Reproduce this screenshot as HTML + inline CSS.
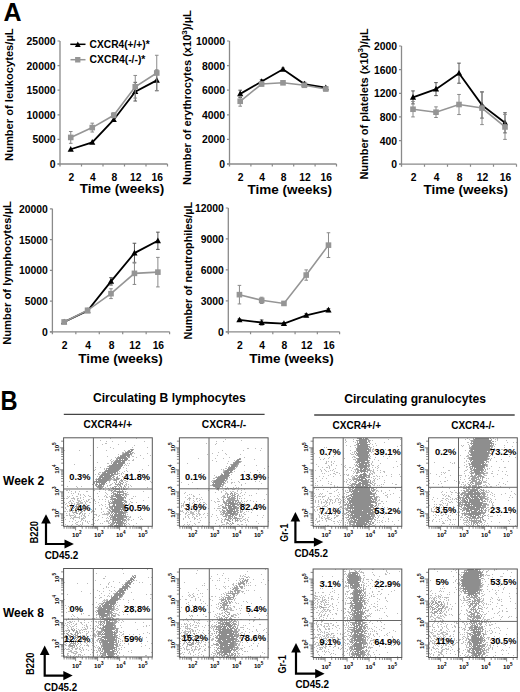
<!DOCTYPE html>
<html><head><meta charset="utf-8"><style>
html,body{margin:0;padding:0;background:#fff;width:520px;height:692px;overflow:hidden}
svg{display:block}
text{font-family:"Liberation Sans",sans-serif;font-weight:bold;fill:#000}
</style></head><body>
<svg width="520" height="692" viewBox="0 0 520 692">
<defs><filter id="bl" x="-5%" y="-5%" width="110%" height="110%"><feGaussianBlur stdDeviation="0.45"/></filter></defs>
<path d="M60 41V166.5M57.5 164H167.5" stroke="#8a8a8a" stroke-width="1.3" fill="none"/>
<path d="M57.5 164H60M57.5 139.4H60M57.5 114.8H60M57.5 90.2H60M57.5 65.6H60M57.5 41H60M81.5 164V166.5M103 164V166.5M124.5 164V166.5M146 164V166.5M167.5 164V166.5" stroke="#8a8a8a" stroke-width="1.2" fill="none"/>
<text x="55.5" y="168" font-size="10.4" text-anchor="end" >0</text>
<text x="55.5" y="143.4" font-size="10.4" text-anchor="end" >5000</text>
<text x="55.5" y="118.8" font-size="10.4" text-anchor="end" >10000</text>
<text x="55.5" y="94.2" font-size="10.4" text-anchor="end" >15000</text>
<text x="55.5" y="69.6" font-size="10.4" text-anchor="end" >20000</text>
<text x="55.5" y="45" font-size="10.4" text-anchor="end" >25000</text>
<text x="71.25" y="180.8" font-size="10.3" text-anchor="middle" >2</text>
<text x="92.75" y="180.8" font-size="10.3" text-anchor="middle" >4</text>
<text x="114.25" y="180.8" font-size="10.3" text-anchor="middle" >8</text>
<text x="135.75" y="180.8" font-size="10.3" text-anchor="middle" >12</text>
<text x="157.25" y="180.8" font-size="10.3" text-anchor="middle" >16</text>
<text x="121.9" y="192.8" font-size="13.5" text-anchor="middle" >Time (weeks)</text>
<text transform="translate(13.3,160.9) rotate(-90)" font-size="11" textLength="132.5" lengthAdjust="spacingAndGlyphs">Number of leukocytes/µL</text>
<path d="M135.25 101.02V82.33M133.45 101.02h3.6M133.45 82.33h3.6M156.75 90.69V70.03M154.95 90.69h3.6M154.95 70.03h3.6" stroke="#555" stroke-width="1" fill="none"/>
<polyline points="70.75,149.24 92.25,142.35 113.75,119.72 135.25,91.68 156.75,80.36" stroke="#000" stroke-width="1.8" fill="none"/>
<path d="M70.75 145.94l3.1 5.7h-6.2z" fill="#000"/>
<path d="M92.25 139.05l3.1 5.7h-6.2z" fill="#000"/>
<path d="M113.75 116.42l3.1 5.7h-6.2z" fill="#000"/>
<path d="M135.25 88.38l3.1 5.7h-6.2z" fill="#000"/>
<path d="M156.75 77.06l3.1 5.7h-6.2z" fill="#000"/>
<path d="M70.75 143.34V131.53M68.95 143.34h3.6M68.95 131.53h3.6M92.25 132.02V123.16M90.45 132.02h3.6M90.45 123.16h3.6M113.75 117.75V112.83M111.95 117.75h3.6M111.95 112.83h3.6M135.25 98.07V75.44M133.45 98.07h3.6M133.45 75.44h3.6M156.75 90.69V55.27M154.95 90.69h3.6M154.95 55.27h3.6" stroke="#8a8a8a" stroke-width="1" fill="none"/>
<polyline points="70.75,137.43 92.25,127.59 113.75,115.29 135.25,86.76 156.75,72.98" stroke="#959595" stroke-width="1.6" fill="none"/>
<rect x="67.95" y="134.63" width="5.6" height="5.6" fill="#959595"/>
<rect x="89.45" y="124.79" width="5.6" height="5.6" fill="#959595"/>
<rect x="110.95" y="112.49" width="5.6" height="5.6" fill="#959595"/>
<rect x="132.45" y="83.96" width="5.6" height="5.6" fill="#959595"/>
<rect x="153.95" y="70.18" width="5.6" height="5.6" fill="#959595"/>
<path d="M229.5 41V166.5M227 164H336.5" stroke="#8a8a8a" stroke-width="1.3" fill="none"/>
<path d="M227 164H229.5M227 139.4H229.5M227 114.8H229.5M227 90.2H229.5M227 65.6H229.5M227 41H229.5M250.9 164V166.5M272.3 164V166.5M293.7 164V166.5M315.1 164V166.5M336.5 164V166.5" stroke="#8a8a8a" stroke-width="1.2" fill="none"/>
<text x="225" y="168" font-size="10.4" text-anchor="end" >0</text>
<text x="225" y="143.4" font-size="10.4" text-anchor="end" >2000</text>
<text x="225" y="118.8" font-size="10.4" text-anchor="end" >4000</text>
<text x="225" y="94.2" font-size="10.4" text-anchor="end" >6000</text>
<text x="225" y="69.6" font-size="10.4" text-anchor="end" >8000</text>
<text x="225" y="45" font-size="10.4" text-anchor="end" >10000</text>
<text x="240.7" y="180.8" font-size="10.3" text-anchor="middle" >2</text>
<text x="262.1" y="180.8" font-size="10.3" text-anchor="middle" >4</text>
<text x="283.5" y="180.8" font-size="10.3" text-anchor="middle" >8</text>
<text x="304.9" y="180.8" font-size="10.3" text-anchor="middle" >12</text>
<text x="326.3" y="180.8" font-size="10.3" text-anchor="middle" >16</text>
<text x="289.7" y="193.8" font-size="13.5" text-anchor="middle" >Time (weeks)</text>
<text transform="translate(191.3,185) rotate(-90)" font-size="11" textLength="174.8" lengthAdjust="spacingAndGlyphs">Number of erythrocytes (x10<tspan dy="-4.5" font-size="8">3</tspan><tspan dy="4.5">)/µL</tspan></text>
<path d="M240.2 97.58V90.2M238.4 97.58h3.6M238.4 90.2h3.6M261.6 83.44V79.74M259.8 83.44h3.6M259.8 79.74h3.6M283 70.52V68.06M281.2 70.52h3.6M281.2 68.06h3.6M304.4 85.89V82.2M302.6 85.89h3.6M302.6 82.2h3.6M325.8 88.97V86.51M324 88.97h3.6M324 86.51h3.6" stroke="#555" stroke-width="1" fill="none"/>
<polyline points="240.2,93.89 261.6,81.59 283,69.29 304.4,84.05 325.8,87.74" stroke="#000" stroke-width="1.8" fill="none"/>
<path d="M240.2 90.59l3.1 5.7h-6.2z" fill="#000"/>
<path d="M261.6 78.29l3.1 5.7h-6.2z" fill="#000"/>
<path d="M283 65.99l3.1 5.7h-6.2z" fill="#000"/>
<path d="M304.4 80.75l3.1 5.7h-6.2z" fill="#000"/>
<path d="M325.8 84.44l3.1 5.7h-6.2z" fill="#000"/>
<path d="M240.2 106.19V96.35M238.4 106.19h3.6M238.4 96.35h3.6M261.6 85.89V82.2M259.8 85.89h3.6M259.8 82.2h3.6M283 84.05V81.59M281.2 84.05h3.6M281.2 81.59h3.6M304.4 87.12V83.44M302.6 87.12h3.6M302.6 83.44h3.6M325.8 90.81V87.12M324 90.81h3.6M324 87.12h3.6" stroke="#8a8a8a" stroke-width="1" fill="none"/>
<polyline points="240.2,101.27 261.6,84.05 283,82.82 304.4,85.28 325.8,88.97" stroke="#959595" stroke-width="1.6" fill="none"/>
<rect x="237.4" y="98.47" width="5.6" height="5.6" fill="#959595"/>
<rect x="258.8" y="81.25" width="5.6" height="5.6" fill="#959595"/>
<rect x="280.2" y="80.02" width="5.6" height="5.6" fill="#959595"/>
<rect x="301.6" y="82.48" width="5.6" height="5.6" fill="#959595"/>
<rect x="323" y="86.17" width="5.6" height="5.6" fill="#959595"/>
<path d="M401.5 46V166.7M399 164.2H516.5" stroke="#8a8a8a" stroke-width="1.3" fill="none"/>
<path d="M399 164.2H401.5M399 140.56H401.5M399 116.92H401.5M399 93.28H401.5M399 69.64H401.5M399 46H401.5M424.5 164.2V166.7M447.5 164.2V166.7M470.5 164.2V166.7M493.5 164.2V166.7M516.5 164.2V166.7" stroke="#8a8a8a" stroke-width="1.2" fill="none"/>
<text x="397" y="168.2" font-size="10.4" text-anchor="end" >0</text>
<text x="397" y="144.56" font-size="10.4" text-anchor="end" >400</text>
<text x="397" y="120.92" font-size="10.4" text-anchor="end" >800</text>
<text x="397" y="97.28" font-size="10.4" text-anchor="end" >1200</text>
<text x="397" y="73.64" font-size="10.4" text-anchor="end" >1600</text>
<text x="397" y="50" font-size="10.4" text-anchor="end" >2000</text>
<text x="413.5" y="181" font-size="10.3" text-anchor="middle" >2</text>
<text x="436.5" y="181" font-size="10.3" text-anchor="middle" >4</text>
<text x="459.5" y="181" font-size="10.3" text-anchor="middle" >8</text>
<text x="482.5" y="181" font-size="10.3" text-anchor="middle" >12</text>
<text x="505.5" y="181" font-size="10.3" text-anchor="middle" >16</text>
<text x="465.8" y="193.5" font-size="13.5" text-anchor="middle" >Time (weeks)</text>
<text transform="translate(367.8,179.6) rotate(-90)" font-size="11" textLength="151.3" lengthAdjust="spacingAndGlyphs">Number of platelets (x10<tspan dy="-4.5" font-size="8">3</tspan><tspan dy="4.5">)/µL</tspan></text>
<path d="M413 103.92V90.92M411.2 103.92h3.6M411.2 90.92h3.6M436 95.64V82.64M434.2 95.64h3.6M434.2 82.64h3.6M459 83.23V63.14M457.2 83.23h3.6M457.2 63.14h3.6M482 118.1V92.1M480.2 118.1h3.6M480.2 92.1h3.6M505 132.88V112.78M503.2 132.88h3.6M503.2 112.78h3.6" stroke="#555" stroke-width="1" fill="none"/>
<polyline points="413,97.42 436,89.14 459,73.19 482,105.1 505,122.83" stroke="#000" stroke-width="1.8" fill="none"/>
<path d="M413 94.12l3.1 5.7h-6.2z" fill="#000"/>
<path d="M436 85.84l3.1 5.7h-6.2z" fill="#000"/>
<path d="M459 69.89l3.1 5.7h-6.2z" fill="#000"/>
<path d="M482 101.8l3.1 5.7h-6.2z" fill="#000"/>
<path d="M505 119.53l3.1 5.7h-6.2z" fill="#000"/>
<path d="M413 116.92V101.55M411.2 116.92h3.6M411.2 101.55h3.6M436 117.51V106.87M434.2 117.51h3.6M434.2 106.87h3.6M459 114.56V94.46M457.2 114.56h3.6M457.2 94.46h3.6M482 124.6V91.51M480.2 124.6h3.6M480.2 91.51h3.6M505 139.38V114.56M503.2 139.38h3.6M503.2 114.56h3.6" stroke="#8a8a8a" stroke-width="1" fill="none"/>
<polyline points="413,109.24 436,112.19 459,104.51 482,108.06 505,126.97" stroke="#959595" stroke-width="1.6" fill="none"/>
<rect x="410.2" y="106.44" width="5.6" height="5.6" fill="#959595"/>
<rect x="433.2" y="109.39" width="5.6" height="5.6" fill="#959595"/>
<rect x="456.2" y="101.71" width="5.6" height="5.6" fill="#959595"/>
<rect x="479.2" y="105.26" width="5.6" height="5.6" fill="#959595"/>
<rect x="502.2" y="124.17" width="5.6" height="5.6" fill="#959595"/>
<path d="M52.4 208.8V334.3M49.9 331.8H169.6" stroke="#8a8a8a" stroke-width="1.3" fill="none"/>
<path d="M49.9 331.8H52.4M49.9 301.05H52.4M49.9 270.3H52.4M49.9 239.55H52.4M49.9 208.8H52.4M75.84 331.8V334.3M99.28 331.8V334.3M122.72 331.8V334.3M146.16 331.8V334.3M169.6 331.8V334.3" stroke="#8a8a8a" stroke-width="1.2" fill="none"/>
<text x="47.9" y="335.8" font-size="10.4" text-anchor="end" >0</text>
<text x="47.9" y="305.05" font-size="10.4" text-anchor="end" >5000</text>
<text x="47.9" y="274.3" font-size="10.4" text-anchor="end" >10000</text>
<text x="47.9" y="243.55" font-size="10.4" text-anchor="end" >15000</text>
<text x="47.9" y="212.8" font-size="10.4" text-anchor="end" >20000</text>
<text x="64.62" y="348.6" font-size="10.3" text-anchor="middle" >2</text>
<text x="88.06" y="348.6" font-size="10.3" text-anchor="middle" >4</text>
<text x="111.5" y="348.6" font-size="10.3" text-anchor="middle" >8</text>
<text x="134.94" y="348.6" font-size="10.3" text-anchor="middle" >12</text>
<text x="158.38" y="348.6" font-size="10.3" text-anchor="middle" >16</text>
<text x="120.5" y="362.7" font-size="13.5" text-anchor="middle" >Time (weeks)</text>
<text transform="translate(11.1,344.8) rotate(-90)" font-size="11" textLength="143.7" lengthAdjust="spacingAndGlyphs">Number of lymphocytes/µL</text>
<path d="M87.56 312.12V309.66M85.76 312.12h3.6M85.76 309.66h3.6M111 285.06V277.68M109.2 285.06h3.6M109.2 277.68h3.6M134.44 262.92V243.24M132.64 262.92h3.6M132.64 243.24h3.6M157.88 249.39V232.17M156.08 249.39h3.6M156.08 232.17h3.6" stroke="#555" stroke-width="1" fill="none"/>
<polyline points="64.12,321.96 87.56,310.89 111,281.37 134.44,253.08 157.88,240.78" stroke="#000" stroke-width="1.8" fill="none"/>
<path d="M64.12 318.66l3.1 5.7h-6.2z" fill="#000"/>
<path d="M87.56 307.59l3.1 5.7h-6.2z" fill="#000"/>
<path d="M111 278.07l3.1 5.7h-6.2z" fill="#000"/>
<path d="M134.44 249.78l3.1 5.7h-6.2z" fill="#000"/>
<path d="M157.88 237.48l3.1 5.7h-6.2z" fill="#000"/>
<path d="M64.12 322.57V321.35M62.32 322.57h3.6M62.32 321.35h3.6M87.56 312.12V308.43M85.76 312.12h3.6M85.76 308.43h3.6M111 298.59V288.75M109.2 298.59h3.6M109.2 288.75h3.6M134.44 284.44V262.31M132.64 284.44h3.6M132.64 262.31h3.6M157.88 286.91V257.38M156.08 286.91h3.6M156.08 257.38h3.6" stroke="#8a8a8a" stroke-width="1" fill="none"/>
<polyline points="64.12,321.96 87.56,310.28 111,293.67 134.44,273.38 157.88,272.14" stroke="#959595" stroke-width="1.6" fill="none"/>
<rect x="61.32" y="319.16" width="5.6" height="5.6" fill="#959595"/>
<rect x="84.76" y="307.48" width="5.6" height="5.6" fill="#959595"/>
<rect x="108.2" y="290.87" width="5.6" height="5.6" fill="#959595"/>
<rect x="131.64" y="270.57" width="5.6" height="5.6" fill="#959595"/>
<rect x="155.08" y="269.34" width="5.6" height="5.6" fill="#959595"/>
<path d="M228.3 208V334.3M225.8 331.8H339.6" stroke="#8a8a8a" stroke-width="1.3" fill="none"/>
<path d="M225.8 331.8H228.3M225.8 300.85H228.3M225.8 269.9H228.3M225.8 238.95H228.3M225.8 208H228.3M250.56 331.8V334.3M272.82 331.8V334.3M295.08 331.8V334.3M317.34 331.8V334.3M339.6 331.8V334.3" stroke="#8a8a8a" stroke-width="1.2" fill="none"/>
<text x="223.8" y="335.8" font-size="10.4" text-anchor="end" >0</text>
<text x="223.8" y="304.85" font-size="10.4" text-anchor="end" >3000</text>
<text x="223.8" y="273.9" font-size="10.4" text-anchor="end" >6000</text>
<text x="223.8" y="242.95" font-size="10.4" text-anchor="end" >9000</text>
<text x="223.8" y="212" font-size="10.4" text-anchor="end" >12000</text>
<text x="239.93" y="348.6" font-size="10.3" text-anchor="middle" >2</text>
<text x="262.19" y="348.6" font-size="10.3" text-anchor="middle" >4</text>
<text x="284.45" y="348.6" font-size="10.3" text-anchor="middle" >8</text>
<text x="306.71" y="348.6" font-size="10.3" text-anchor="middle" >12</text>
<text x="328.97" y="348.6" font-size="10.3" text-anchor="middle" >16</text>
<text x="291.5" y="363" font-size="13.5" text-anchor="middle" >Time (weeks)</text>
<text transform="translate(192,339.6) rotate(-90)" font-size="11" textLength="137.7" lengthAdjust="spacingAndGlyphs">Number of neutrophiles/µL</text>
<path d="M239.43 320.97V318.9M237.63 320.97h3.6M237.63 318.9h3.6M261.69 325.09V319.94M259.89 325.09h3.6M259.89 319.94h3.6M283.95 324.58V322.51M282.15 324.58h3.6M282.15 322.51h3.6M306.21 316.84V313.75M304.41 316.84h3.6M304.41 313.75h3.6M328.47 311.68V308.59M326.67 311.68h3.6M326.67 308.59h3.6" stroke="#555" stroke-width="1" fill="none"/>
<polyline points="239.43,319.94 261.69,322.51 283.95,323.55 306.21,315.29 328.47,310.13" stroke="#000" stroke-width="1.8" fill="none"/>
<path d="M239.43 316.64l3.1 5.7h-6.2z" fill="#000"/>
<path d="M261.69 319.21l3.1 5.7h-6.2z" fill="#000"/>
<path d="M283.95 320.25l3.1 5.7h-6.2z" fill="#000"/>
<path d="M306.21 311.99l3.1 5.7h-6.2z" fill="#000"/>
<path d="M328.47 306.83l3.1 5.7h-6.2z" fill="#000"/>
<path d="M239.43 303.94V285.38M237.63 303.94h3.6M237.63 285.38h3.6M261.69 303.43V297.24M259.89 303.43h3.6M259.89 297.24h3.6M283.95 304.98V301.88M282.15 304.98h3.6M282.15 301.88h3.6M306.21 280.22V269.9M304.41 280.22h3.6M304.41 269.9h3.6M328.47 257.52V232.76M326.67 257.52h3.6M326.67 232.76h3.6" stroke="#8a8a8a" stroke-width="1" fill="none"/>
<polyline points="239.43,294.66 261.69,300.33 283.95,303.43 306.21,275.06 328.47,245.14" stroke="#959595" stroke-width="1.6" fill="none"/>
<rect x="236.63" y="291.86" width="5.6" height="5.6" fill="#959595"/>
<rect x="258.89" y="297.53" width="5.6" height="5.6" fill="#959595"/>
<rect x="281.15" y="300.63" width="5.6" height="5.6" fill="#959595"/>
<rect x="303.41" y="272.26" width="5.6" height="5.6" fill="#959595"/>
<rect x="325.67" y="242.34" width="5.6" height="5.6" fill="#959595"/>
<path d="M70.3 44.3H85.5" stroke="#000" stroke-width="1.5"/><path d="M77.8 41.6l2.9 5.4h-5.8z"/>
<path d="M70.5 59.7H85.5" stroke="#959595" stroke-width="1.5"/><rect x="75.1" y="57" width="5.3" height="5.5" fill="#959595"/>
<text x="89.6" y="48.1" font-size="10.5" text-anchor="start" textLength="60.1" lengthAdjust="spacingAndGlyphs" >CXCR4(+/+)*</text>
<text x="89.6" y="62.8" font-size="10.5" text-anchor="start" textLength="55.8" lengthAdjust="spacingAndGlyphs" >CXCR4(-/-)*</text>
<text transform="translate(3.6,20.8) scale(1.11,1.17)" font-size="22.5">A</text>
<text transform="translate(0.4,410) scale(1.05,1.2)" font-size="22.5">B</text>
<text x="92.9" y="402.3" font-size="12" text-anchor="start" textLength="152.8" lengthAdjust="spacingAndGlyphs" >Circulating B lymphocytes</text>
<text x="344.2" y="402.6" font-size="12" text-anchor="start" textLength="141.7" lengthAdjust="spacingAndGlyphs" >Circulating granulocytes</text>
<path d="M63.8 414.4H264.6M314.2 415H514.7" stroke="#444" stroke-width="1.3"/>
<text x="83.5" y="428.2" font-size="10" text-anchor="start" textLength="48.5" lengthAdjust="spacingAndGlyphs" >CXCR4+/+</text>
<text x="201.8" y="428.4" font-size="10" text-anchor="start" textLength="44.4" lengthAdjust="spacingAndGlyphs" >CXCR4-/-</text>
<text x="332.6" y="429" font-size="10" text-anchor="start" textLength="48.5" lengthAdjust="spacingAndGlyphs" >CXCR4+/+</text>
<text x="451.2" y="428.8" font-size="10" text-anchor="start" textLength="43.4" lengthAdjust="spacingAndGlyphs" >CXCR4-/-</text>
<text x="3" y="484.6" font-size="12" text-anchor="start" textLength="41.2" lengthAdjust="spacingAndGlyphs" >Week 2</text>
<text x="3" y="616.7" font-size="12" text-anchor="start" textLength="41" lengthAdjust="spacingAndGlyphs" >Week 8</text>
<path d="M46 522.2V544H65.4" stroke="#000" stroke-width="2.2" fill="none"/>
<path d="M46 514.2l4.8 9.4h-9.6z"/>
<path d="M73.9 544l-9.4 -4.6v9.2z"/>
<text transform="translate(37.8,543.6) rotate(-90)" font-size="10.2" textLength="22.6" lengthAdjust="spacingAndGlyphs">B220</text>
<text x="44.7" y="558.7" font-size="10" text-anchor="start" textLength="33.7" lengthAdjust="spacingAndGlyphs" >CD45.2</text>
<path d="M44.7 653.5V675.6H64.2" stroke="#000" stroke-width="2.2" fill="none"/>
<path d="M44.7 645.5l4.8 9.4h-9.6z"/>
<path d="M72.7 675.6l-9.4 -4.6v9.2z"/>
<text transform="translate(34,674.9) rotate(-90)" font-size="10.2" textLength="22.4" lengthAdjust="spacingAndGlyphs">B220</text>
<text x="44.1" y="690.5" font-size="10" text-anchor="start" textLength="33" lengthAdjust="spacingAndGlyphs" >CD45.2</text>
<path d="M295.4 520.1V542.1H314.8" stroke="#000" stroke-width="2.2" fill="none"/>
<path d="M295.4 512.1l4.8 9.4h-9.6z"/>
<path d="M323.3 542.1l-9.4 -4.6v9.2z"/>
<text transform="translate(287.5,541.7) rotate(-90)" font-size="10.2" textLength="18.1" lengthAdjust="spacingAndGlyphs">Gr-1</text>
<text x="294.5" y="556.5" font-size="10" text-anchor="start" textLength="33.4" lengthAdjust="spacingAndGlyphs" >CD45.2</text>
<path d="M296 651V673.7H316.1" stroke="#000" stroke-width="2.2" fill="none"/>
<path d="M296 643l4.8 9.4h-9.6z"/>
<path d="M324.6 673.7l-9.4 -4.6v9.2z"/>
<text transform="translate(285.9,673.6) rotate(-90)" font-size="10.2" textLength="18.6" lengthAdjust="spacingAndGlyphs">Gr-1</text>
<text x="295.4" y="688" font-size="10" text-anchor="start" textLength="33.6" lengthAdjust="spacingAndGlyphs" >CD45.2</text>
<g transform="translate(63,438)" filter="url(#bl)">
<path transform="translate(0,.5)" d="M47 0h1M73 0h1M37 2h1M43 3h1M49 3h1M62 3h1M81 3h1M42 5h2M39 6h1M55 6h1M71 7h1M34 9h1M47 9h1M69 9h1M84 9h1M50 10h1M1 12h1M16 12h1M43 12h1M61 12h1M62 13h1M59 14h2M70 14h1M59 15h1M69 15h1M71 15h1M84 15h1M55 16h1M27 17h1M68 17h1M77 17h1M87 17h1M44 18h1M69 18h2M52 19h1M73 19h1M80 20h1M48 21h1M70 21h1M47 22h1M50 22h1M65 22h2M69 22h2M48 23h2M34 24h1M48 24h1M44 25h2M64 25h1M66 25h1M11 26h1M62 26h1M61 27h1M63 27h1M65 27h1M85 27h1M44 28h1M32 29h1M37 29h1M60 29h1M41 30h1M63 30h1M32 31h1M41 31h1M79 31h1M31 32h1M63 32h1M56 33h1M61 33h1M64 33h1M76 33h1M36 34h2M59 34h1M35 35h1M55 35h2M58 35h1M60 35h1M68 35h1M32 36h1M35 36h2M58 36h1M62 36h3M34 38h1M61 38h1M83 38h1M60 39h1M33 40h1M50 40h1M62 40h1M84 40h1M32 41h1M48 41h3M66 41h1M47 42h1M50 42h1M61 42h2M82 42h1M6 43h1M46 43h1M63 43h2M87 43h1M30 44h1M46 44h1M62 44h1M88 44h1M49 45h1M63 45h1M29 46h1M47 46h2M62 46h2M65 46h1M44 47h1M46 47h2M63 47h1M67 47h1M4 48h1M13 48h1M18 48h1M44 48h1M62 48h1M65 48h1M68 48h1M14 49h1M42 49h1M47 49h1M62 49h1M65 49h1M84 49h1M40 50h1M45 50h1M48 50h1M63 50h2M0 51h1M36 51h2M40 51h1M46 51h1M62 51h2M3 52h2M6 52h1M31 52h1M42 52h1M45 52h3M8 53h1M12 53h1M16 53h1M23 53h2M36 53h1M80 53h1M5 54h1M12 54h1M42 54h1M64 54h1M8 55h1M10 55h1M15 55h1M34 55h1M43 55h1M63 55h1M15 56h1M17 56h1M20 56h1M44 56h1M63 56h3M9 57h1M17 57h1M21 57h1M25 57h1M42 57h1M63 57h1M4 58h1M6 58h1M13 58h2M22 58h1M26 58h2M35 58h1M41 58h1M43 58h1M46 58h1M63 58h1M70 58h1M72 58h1M5 59h1M10 59h1M17 59h1M20 59h1M43 59h2M85 59h1M1 60h1M3 60h2M8 60h4M14 60h2M17 60h1M28 60h1M68 60h2M11 61h1M14 61h1M20 61h1M25 61h2M31 61h1M36 61h1M39 61h1M42 61h1M66 61h1M7 62h1M9 62h1M14 62h3M18 62h1M23 62h1M25 62h1M31 62h1M45 62h1M80 62h1M6 63h2M10 63h1M15 63h3M21 63h1M23 63h2M32 63h1M42 63h1M45 63h1M67 63h1M0 64h2M5 64h1M8 64h1M13 64h3M17 64h3M22 64h1M26 64h2M35 64h1M45 64h1M68 64h2M73 64h1M3 65h1M6 65h1M8 65h2M11 65h1M14 65h6M22 65h1M32 65h1M66 65h1M0 66h1M2 66h1M8 66h1M11 66h1M13 66h1M16 66h1M20 66h2M23 66h1M38 66h1M42 66h1M45 66h1M65 66h2M4 67h1M9 67h1M20 67h2M26 67h1M36 67h1M39 67h1M4 68h2M7 68h2M19 68h1M21 68h3M42 68h1M2 69h1M7 69h1M9 69h1M44 69h1M66 69h1M0 70h1M2 70h1M7 70h1M22 70h1M24 70h1M26 70h1M32 70h1M38 70h1M43 70h2M64 70h3M78 70h1M3 71h1M6 71h1M8 71h1M20 71h1M23 71h1M28 71h1M32 71h1M38 71h1M45 71h1M64 71h1M73 71h1M6 72h2M9 72h1M20 72h1M29 72h1M64 72h1M68 72h2M1 73h2M4 73h1M6 73h2M9 73h1M21 73h1M28 73h2M31 73h1M40 73h1M44 73h2M68 73h2M9 74h2M28 74h1M38 74h1M45 74h1M64 74h1M3 75h1M6 75h1M10 75h1M19 75h1M21 75h2M26 75h1M41 75h1M43 75h3M6 76h1M11 76h1M19 76h1M21 76h1M31 76h3M39 76h7M64 76h1M3 77h2M6 77h5M12 77h1M18 77h1M20 77h2M25 77h1M33 77h1M36 77h1M44 77h1M7 78h1M11 78h2M16 78h1M18 78h1M21 78h2M35 78h1M64 78h2M67 78h1M77 78h1M1 79h1M8 79h1M10 79h7M20 79h1M22 79h1M30 79h2M39 79h1M44 79h1M66 79h2M75 79h1M7 80h1M9 80h2M16 80h1M18 80h4M30 80h1M43 80h1M45 80h1M65 80h1M78 80h1M2 81h1M10 81h1M18 81h2M29 81h1M35 81h1M64 81h3M70 81h1M77 81h1M79 81h1M12 82h1M18 82h1M20 82h1M22 82h1M32 82h1M34 82h1M43 82h2M63 82h1M65 82h1M68 82h1M6 83h1M9 83h1M15 83h1M17 83h1M22 83h1M24 83h1M26 83h1M41 83h1M43 83h3M63 83h1M13 84h2M19 84h1M24 84h1M45 84h1M63 84h1M12 85h1M19 85h1M25 85h1M31 85h1M37 85h1M39 85h1M45 85h2M65 85h1M73 85h1M2 86h1M9 86h1M13 86h2M17 86h1M19 86h1M28 86h2M63 86h1M66 86h1M4 87h1M8 87h1M15 87h2M18 87h1M45 87h2M62 87h1M70 87h1M13 88h1M17 88h2M23 88h3M29 88h2M32 88h1M42 88h1M47 88h1M62 88h1M70 88h1" stroke="#bcbcbc" stroke-width="1" fill="none"/>
<path transform="translate(0,.5)" d="M67 11h1M70 11h1M65 12h1M64 13h1M62 14h1M69 14h1M60 15h2M68 15h1M59 16h1M67 16h2M57 17h2M55 18h1M66 18h1M54 19h2M65 19h2M53 20h2M53 21h1M64 21h1M52 22h1M63 22h1M51 23h1M50 24h1M48 25h1M61 25h1M46 27h2M45 28h2M43 30h2M57 30h1M43 31h1M56 31h1M42 32h1M55 32h1M41 33h1M54 33h1M39 34h2M54 34h1M39 35h1M52 35h1M54 35h1M38 36h1M51 36h4M37 37h1M50 37h1M56 37h1M36 38h1M50 38h2M54 38h1M59 38h1M49 39h2M53 39h2M47 40h2M51 40h1M53 40h4M33 41h1M46 41h2M51 41h5M58 41h1M60 41h1M45 42h2M51 42h3M57 42h3M31 43h1M53 43h1M56 43h1M58 43h2M31 44h1M51 44h1M53 44h1M56 44h2M60 44h1M31 45h1M43 45h1M52 45h1M55 45h1M57 45h3M32 46h1M41 46h1M52 46h6M59 46h1M32 47h2M40 47h1M54 47h1M56 47h2M61 47h1M33 48h2M39 48h2M51 48h3M55 48h1M57 48h2M61 48h1M34 49h2M38 49h2M49 49h2M52 49h1M56 49h1M58 49h1M60 49h1M36 50h3M49 50h8M58 50h1M60 50h2M50 51h1M52 51h5M58 51h1M60 51h2M48 52h2M51 52h2M56 52h1M59 52h1M48 53h1M50 53h3M57 53h4M62 53h1M49 54h2M58 54h3M48 55h1M50 55h2M60 55h3M50 56h2M59 56h2M62 56h1M48 57h3M59 57h2M62 57h1M48 58h3M61 58h1M47 59h3M60 59h3M48 60h3M60 60h1M62 60h1M47 61h3M60 61h1M49 62h1M60 62h3M47 63h1M49 63h1M61 63h3M46 64h1M48 64h2M60 64h1M62 64h2M46 65h4M61 65h1M14 66h2M46 66h1M61 66h3M13 67h1M15 67h1M17 67h1M46 67h1M49 67h1M62 67h2M12 68h6M46 68h3M61 68h1M11 69h1M13 69h2M17 69h1M46 69h3M61 69h3M10 70h1M12 70h2M15 70h1M18 70h2M47 70h2M61 70h3M12 71h1M14 71h1M16 71h1M19 71h1M46 71h1M48 71h1M10 72h1M13 72h1M15 72h2M18 72h1M46 72h2M61 72h3M12 73h2M15 73h1M18 73h2M47 73h2M61 73h3M11 74h3M17 74h2M46 74h1M48 74h1M61 74h3M13 75h2M16 75h2M46 75h1M48 75h1M61 75h2M16 76h1M47 76h1M62 76h1M47 77h2M61 77h2M46 78h1M48 78h2M60 78h4M47 79h3M60 79h4M47 80h1M49 80h1M60 80h1M63 80h1M47 81h3M60 81h3M46 82h1M49 82h1M60 82h3M49 83h1M61 83h1M47 84h1M49 84h2M59 84h2M48 85h3M59 85h4M47 86h4M58 86h2M61 86h1M47 87h3M51 87h1M58 87h2M61 87h1M49 88h1M51 88h4M56 88h6" stroke="#a0a0a0" stroke-width="1" fill="none"/>
<path transform="translate(0,.5)" d="M68 11h2M66 12h1M68 12h2M65 13h4M63 14h5M62 15h4M67 15h1M60 16h7M59 17h8M57 18h6M64 18h2M56 19h8M55 20h10M54 21h1M56 21h2M59 21h1M61 21h3M53 22h10M52 23h6M59 23h3M51 24h11M50 25h4M55 25h6M49 26h11M48 27h12M47 28h12M46 29h12M45 30h12M45 31h11M43 32h12M42 33h12M41 34h2M44 34h9M40 35h10M51 35h1M39 36h8M48 36h3M38 37h12M37 38h3M41 38h8M36 39h12M35 40h3M39 40h8M34 41h12M33 42h1M35 42h10M32 43h12M33 44h10M33 45h1M36 45h1M38 45h4M33 46h2M36 46h5M35 47h4M35 48h4M36 49h2M53 53h4M54 54h4M52 55h1M54 55h1M56 55h1M52 56h7M52 57h6M51 58h8M53 59h7M51 60h2M54 60h6M50 61h10M51 62h9M50 63h9M50 64h10M50 65h10M50 66h2M53 66h8M50 67h2M53 67h8M49 68h12M49 69h1M51 69h10M49 70h1M51 70h7M59 70h2M49 71h12M49 72h8M58 72h1M60 72h1M49 73h11M49 74h1M51 74h10M50 75h1M52 75h2M55 75h6M49 76h1M51 76h8M60 76h1M49 77h1M51 77h10M50 78h10M50 79h3M54 79h6M50 80h10M50 81h10M50 82h8M59 82h1M50 83h1M52 83h1M54 83h6M51 84h8M51 85h1M53 85h6M53 86h1M55 86h3M52 87h6" stroke="#8e8e8e" stroke-width="1" fill="none"/>
</g>
<g transform="translate(63.6,437.8)">
<rect x="0" y="0" width="88.7" height="88.5" fill="none" stroke="#555" stroke-width="1"/>
<path d="M29.8 0V88.5M0 51.2H88.7" stroke="#666" stroke-width="1"/>
<path d="M12 88.5v4M18.62 88.5v2.5M22.5 88.5v2.5M0.5 88.5v2.5M25.25 88.5v2.5M3.25 88.5v2.5M27.38 88.5v2.5M5.38 88.5v2.5M29.12 88.5v2.5M7.12 88.5v2.5M30.59 88.5v2.5M8.59 88.5v2.5M31.87 88.5v2.5M9.87 88.5v2.5M32.99 88.5v2.5M10.99 88.5v2.5M34 88.5v4M40.62 88.5v2.5M44.5 88.5v2.5M47.25 88.5v2.5M49.38 88.5v2.5M51.12 88.5v2.5M52.59 88.5v2.5M53.87 88.5v2.5M54.99 88.5v2.5M56 88.5v4M62.62 88.5v2.5M66.5 88.5v2.5M69.25 88.5v2.5M71.38 88.5v2.5M73.12 88.5v2.5M74.59 88.5v2.5M75.87 88.5v2.5M76.99 88.5v2.5M78 88.5v4M84.62 88.5v2.5M88.5 88.5v2.5M0 76h-4M0 69.38h-2.5M0 65.5h-2.5M0 87.5h-2.5M0 62.75h-2.5M0 84.75h-2.5M0 60.62h-2.5M0 82.62h-2.5M0 58.88h-2.5M0 80.88h-2.5M0 57.41h-2.5M0 79.41h-2.5M0 56.13h-2.5M0 78.13h-2.5M0 55.01h-2.5M0 77.01h-2.5M0 54h-4M0 47.38h-2.5M0 43.5h-2.5M0 40.75h-2.5M0 38.62h-2.5M0 36.88h-2.5M0 35.41h-2.5M0 34.13h-2.5M0 33.01h-2.5M0 32h-4M0 25.38h-2.5M0 21.5h-2.5M0 18.75h-2.5M0 16.62h-2.5M0 14.88h-2.5M0 13.41h-2.5M0 12.13h-2.5M0 11.01h-2.5M0 10h-4M0 3.38h-2.5" stroke="#555" stroke-width=".7"/>
<text x="8.5" y="99.5" font-size="6.2">10<tspan dy="-2.8" font-size="4.6">2</tspan></text>
<text x="30.5" y="99.5" font-size="6.2">10<tspan dy="-2.8" font-size="4.6">3</tspan></text>
<text x="52.5" y="99.5" font-size="6.2">10<tspan dy="-2.8" font-size="4.6">4</tspan></text>
<text x="74.5" y="99.5" font-size="6.2">10<tspan dy="-2.8" font-size="4.6">5</tspan></text>
<text transform="translate(-4.8,80) rotate(-90)" font-size="6.2">10<tspan dy="-2.8" font-size="4.6">2</tspan></text>
<text transform="translate(-4.8,58) rotate(-90)" font-size="6.2">10<tspan dy="-2.8" font-size="4.6">3</tspan></text>
<text transform="translate(-4.8,36) rotate(-90)" font-size="6.2">10<tspan dy="-2.8" font-size="4.6">4</tspan></text>
<text transform="translate(-4.8,14) rotate(-90)" font-size="6.2">10<tspan dy="-2.8" font-size="4.6">5</tspan></text>
</g>
<text x="69.25" y="480.05" font-size="9.3">0.3%</text>
<text x="123.75" y="480.05" font-size="9.3">41.8%</text>
<text x="69.25" y="510.8" font-size="9.3">7.4%</text>
<text x="123.75" y="510.8" font-size="9.3">50.5%</text>
<g transform="translate(180,438)" filter="url(#bl)">
<path transform="translate(0,.5)" d="M45 1h1M61 2h1M36 3h1M43 3h1M26 5h1M36 5h1M35 6h1M67 10h2M75 10h1M81 10h1M42 12h1M63 12h1M80 12h1M38 14h1M32 15h1M45 15h1M27 16h1M46 16h1M60 16h1M37 17h1M49 19h1M64 19h1M18 20h1M35 20h1M43 20h1M74 21h1M32 22h1M54 22h1M36 23h1M48 23h1M61 23h1M60 24h1M7 25h1M47 25h1M50 26h1M58 26h1M64 27h1M76 27h1M46 28h1M57 28h1M88 28h1M56 29h1M45 30h2M55 30h1M84 30h1M41 31h1M43 31h1M43 32h2M77 32h1M43 33h1M54 33h1M64 33h1M52 34h1M70 34h1M79 34h1M21 35h1M41 35h1M51 36h1M34 37h1M66 37h1M36 38h1M79 38h1M35 39h1M49 39h1M88 39h1M33 40h2M47 41h1M51 41h1M60 41h1M32 42h2M46 42h1M31 43h1M47 43h1M58 43h1M75 43h1M79 43h1M1 44h1M12 44h1M47 44h1M51 44h2M54 44h1M59 44h1M44 45h2M51 45h1M65 45h1M81 45h1M8 46h1M61 46h1M30 47h2M43 47h1M55 47h1M61 47h1M42 48h1M45 48h1M42 49h1M47 49h1M53 49h1M56 49h1M58 49h1M17 50h1M45 50h4M50 50h2M55 50h1M61 50h1M36 51h1M45 51h2M48 51h1M52 51h3M58 51h1M64 51h1M78 51h1M28 52h1M38 52h1M43 52h1M57 52h1M61 52h1M41 53h1M45 53h1M50 53h1M52 53h2M57 53h1M5 54h1M35 54h1M41 54h1M46 54h1M54 54h2M61 54h1M65 54h1M4 55h1M45 55h3M56 55h2M60 55h1M76 55h1M9 56h1M11 56h1M19 56h1M45 56h1M58 56h1M64 56h1M86 56h1M7 57h1M13 57h1M43 57h2M58 57h1M62 57h1M69 57h1M71 57h1M13 58h2M42 58h3M59 58h2M5 59h1M9 59h1M21 59h1M41 59h1M43 59h1M8 60h3M13 60h1M16 60h2M19 60h1M37 60h1M43 60h1M61 60h1M64 60h1M7 61h1M9 61h1M16 61h1M20 61h1M22 61h1M38 61h1M42 61h2M84 61h1M9 62h1M13 62h1M19 62h1M31 62h1M61 62h1M67 62h1M70 62h1M4 63h1M14 63h1M17 63h1M34 63h1M37 63h3M61 63h1M64 63h1M66 63h1M73 63h1M76 63h1M4 64h1M9 64h1M13 64h1M20 64h1M23 64h2M35 64h1M62 64h1M1 65h1M3 65h1M9 65h1M12 65h1M14 65h1M19 65h1M25 65h1M61 65h1M64 65h1M75 65h1M3 66h1M5 66h4M14 66h1M16 66h1M21 66h1M26 66h1M38 66h1M61 66h1M63 66h1M65 66h1M1 67h3M6 67h1M14 67h1M40 67h2M62 67h1M65 67h1M67 67h1M1 68h1M3 68h1M8 68h2M11 68h2M38 68h2M62 68h1M65 68h1M1 69h1M11 69h1M16 69h2M19 69h1M26 69h1M4 70h1M11 70h1M16 70h1M20 70h1M28 70h1M34 70h1M37 70h4M5 71h1M13 71h1M16 71h1M19 71h1M62 71h1M65 71h1M73 71h1M76 71h2M0 72h1M2 72h1M6 72h1M8 72h2M15 72h2M18 72h2M36 72h1M39 72h1M62 72h1M72 72h1M0 73h3M7 73h1M10 73h2M14 73h1M16 73h1M18 73h2M40 73h2M61 73h2M66 73h1M68 73h1M3 74h1M6 74h1M8 74h1M10 74h4M18 74h1M40 74h1M61 74h1M64 74h1M71 74h1M5 75h2M10 75h4M16 75h1M18 75h2M24 75h1M27 75h1M41 75h1M63 75h1M0 76h1M5 76h1M8 76h2M12 76h3M17 76h1M19 76h2M23 76h1M32 76h1M40 76h3M61 76h1M64 76h2M7 77h1M12 77h1M16 77h1M19 77h1M27 77h1M36 77h1M42 77h1M61 77h1M77 77h1M83 77h1M5 78h1M8 78h1M13 78h1M16 78h2M31 78h1M60 78h1M62 78h2M5 79h1M8 79h1M12 79h1M14 79h1M21 79h1M25 79h1M37 79h1M62 79h1M68 79h1M82 79h1M3 80h1M9 80h1M14 80h2M19 80h1M41 80h1M59 80h3M65 80h1M3 81h1M14 81h1M17 81h1M38 81h1M42 81h1M44 81h1M59 81h1M63 81h2M67 81h1M20 82h1M36 82h1M41 82h1M44 82h1M58 82h1M60 82h1M62 82h1M65 82h1M67 82h1M10 83h1M41 83h1M44 83h1M57 83h1M60 83h2M68 83h1M76 83h1M88 83h1M7 84h1M18 84h2M29 84h1M41 84h2M46 84h1M65 84h1M14 85h1M35 85h1M46 85h2M78 85h1M4 86h1M7 86h1M9 86h1M15 86h1M42 86h3M46 86h1M49 86h1M57 86h2M61 86h2M66 86h1M3 87h1M8 87h1M12 87h1M22 87h1M39 87h1M41 87h1M50 87h1M59 87h1M66 87h1M46 88h1M48 88h2M51 88h1M53 88h1M60 88h1M68 88h1M81 88h1" stroke="#bcbcbc" stroke-width="1" fill="none"/>
<path transform="translate(0,.5)" d="M59 20h2M57 21h1M60 21h1M56 22h1M55 23h1M60 23h1M53 24h2M59 24h1M53 25h1M58 25h1M51 26h2M57 26h1M51 27h1M56 27h2M49 28h1M56 28h1M48 29h2M54 30h1M53 31h2M45 32h1M44 33h1M43 34h1M51 34h1M41 36h1M40 37h1M49 37h1M38 38h2M48 38h1M36 39h2M47 39h1M47 40h1M46 41h1M34 42h1M45 42h1M33 43h1M45 43h1M32 44h2M44 44h1M43 45h1M32 46h1M42 46h2M32 47h1M42 47h1M33 48h1M41 48h1M35 49h1M37 51h2M51 54h1M50 55h3M54 55h1M47 56h2M50 56h1M52 56h1M54 56h2M47 57h1M51 57h4M57 57h1M47 58h1M49 58h2M52 58h1M54 58h2M57 58h1M44 59h2M47 59h3M51 59h4M57 59h1M48 60h8M57 60h1M59 60h1M47 61h8M57 61h1M43 62h1M46 62h13M43 63h2M46 63h3M55 63h2M58 63h1M43 64h4M48 64h1M55 64h1M57 64h4M44 65h4M55 65h3M59 65h2M42 66h1M45 66h2M55 66h6M45 67h2M57 67h2M60 67h1M42 68h2M45 68h1M56 68h1M59 68h2M42 69h5M56 69h3M60 69h1M43 70h4M56 70h3M60 70h2M42 71h1M46 71h1M56 71h2M60 71h2M42 72h3M46 72h1M56 72h3M60 72h1M43 73h3M56 73h2M60 73h1M42 74h3M46 74h2M55 74h1M57 74h2M60 74h1M43 75h5M55 75h3M43 76h1M45 76h3M54 76h4M59 76h1M45 77h4M53 77h1M55 77h2M59 77h1M43 78h4M48 78h5M54 78h1M59 78h1M46 79h1M48 79h3M52 79h1M54 79h3M45 80h1M48 80h4M53 80h6M45 81h4M50 81h1M52 81h1M55 81h1M57 81h1M47 82h3M52 82h1M55 82h3M49 83h2M55 83h1M47 84h1M52 84h1M48 85h1M50 85h1M52 85h2M51 86h1" stroke="#a0a0a0" stroke-width="1" fill="none"/>
<path transform="translate(0,.5)" d="M58 21h2M57 22h2M56 23h4M55 24h4M54 25h4M53 26h4M52 27h4M51 28h5M50 29h5M48 30h6M47 31h6M46 32h7M45 33h4M50 33h2M44 34h7M44 35h6M42 36h1M44 36h5M41 37h8M40 38h8M38 39h9M37 40h10M36 41h9M35 42h10M34 43h10M34 44h10M33 45h1M35 45h7M33 46h9M33 47h8M34 48h7M36 49h4M37 50h2M49 63h2M52 63h2M49 64h5M48 65h7M48 66h1M50 66h5M47 67h4M52 67h3M48 68h8M48 69h4M53 69h3M48 70h8M47 71h1M49 71h6M47 72h6M54 72h1M47 73h9M48 74h4M53 74h2M48 75h7M50 76h4M49 77h2M52 77h1" stroke="#8e8e8e" stroke-width="1" fill="none"/>
</g>
<g transform="translate(179.4,437.8)">
<rect x="0" y="0" width="88.7" height="88.5" fill="none" stroke="#555" stroke-width="1"/>
<path d="M29.6 0V88.5M0 51H88.7" stroke="#666" stroke-width="1"/>
<path d="M12 88.5v4M18.62 88.5v2.5M22.5 88.5v2.5M0.5 88.5v2.5M25.25 88.5v2.5M3.25 88.5v2.5M27.38 88.5v2.5M5.38 88.5v2.5M29.12 88.5v2.5M7.12 88.5v2.5M30.59 88.5v2.5M8.59 88.5v2.5M31.87 88.5v2.5M9.87 88.5v2.5M32.99 88.5v2.5M10.99 88.5v2.5M34 88.5v4M40.62 88.5v2.5M44.5 88.5v2.5M47.25 88.5v2.5M49.38 88.5v2.5M51.12 88.5v2.5M52.59 88.5v2.5M53.87 88.5v2.5M54.99 88.5v2.5M56 88.5v4M62.62 88.5v2.5M66.5 88.5v2.5M69.25 88.5v2.5M71.38 88.5v2.5M73.12 88.5v2.5M74.59 88.5v2.5M75.87 88.5v2.5M76.99 88.5v2.5M78 88.5v4M84.62 88.5v2.5M88.5 88.5v2.5M0 76h-4M0 69.38h-2.5M0 65.5h-2.5M0 87.5h-2.5M0 62.75h-2.5M0 84.75h-2.5M0 60.62h-2.5M0 82.62h-2.5M0 58.88h-2.5M0 80.88h-2.5M0 57.41h-2.5M0 79.41h-2.5M0 56.13h-2.5M0 78.13h-2.5M0 55.01h-2.5M0 77.01h-2.5M0 54h-4M0 47.38h-2.5M0 43.5h-2.5M0 40.75h-2.5M0 38.62h-2.5M0 36.88h-2.5M0 35.41h-2.5M0 34.13h-2.5M0 33.01h-2.5M0 32h-4M0 25.38h-2.5M0 21.5h-2.5M0 18.75h-2.5M0 16.62h-2.5M0 14.88h-2.5M0 13.41h-2.5M0 12.13h-2.5M0 11.01h-2.5M0 10h-4M0 3.38h-2.5" stroke="#555" stroke-width=".7"/>
<text x="8.5" y="99.5" font-size="6.2">10<tspan dy="-2.8" font-size="4.6">2</tspan></text>
<text x="30.5" y="99.5" font-size="6.2">10<tspan dy="-2.8" font-size="4.6">3</tspan></text>
<text x="52.5" y="99.5" font-size="6.2">10<tspan dy="-2.8" font-size="4.6">4</tspan></text>
<text x="74.5" y="99.5" font-size="6.2">10<tspan dy="-2.8" font-size="4.6">5</tspan></text>
<text transform="translate(-4.8,80) rotate(-90)" font-size="6.2">10<tspan dy="-2.8" font-size="4.6">2</tspan></text>
<text transform="translate(-4.8,58) rotate(-90)" font-size="6.2">10<tspan dy="-2.8" font-size="4.6">3</tspan></text>
<text transform="translate(-4.8,36) rotate(-90)" font-size="6.2">10<tspan dy="-2.8" font-size="4.6">4</tspan></text>
<text transform="translate(-4.8,14) rotate(-90)" font-size="6.2">10<tspan dy="-2.8" font-size="4.6">5</tspan></text>
</g>
<text x="185" y="480.3" font-size="9.3">0.1%</text>
<text x="240" y="480.3" font-size="9.3">13.9%</text>
<text x="185" y="509.55" font-size="9.3">3.6%</text>
<text x="240" y="509.55" font-size="9.3">82.4%</text>
<g transform="translate(313,438)" filter="url(#bl)">
<path transform="translate(0,.5)" d="M32 1h1M40 1h1M75 1h1M87 1h1M32 2h1M57 2h1M59 2h1M33 3h1M40 3h1M32 4h1M42 4h1M71 4h1M57 5h1M62 5h1M59 6h1M33 7h1M41 7h2M63 7h1M87 7h1M37 8h1M60 8h1M84 8h1M11 9h1M13 9h1M42 9h1M57 9h2M60 10h1M59 11h2M64 11h1M68 11h2M72 11h1M77 11h1M6 12h1M37 12h1M59 12h1M76 12h2M80 12h1M41 13h1M59 13h2M65 13h1M39 14h1M41 14h1M58 14h1M1 15h1M10 15h1M37 15h1M41 15h1M67 15h1M73 15h1M11 16h1M13 16h1M16 16h1M38 16h3M60 16h1M14 17h1M20 18h1M40 18h2M57 18h1M70 18h1M76 18h1M6 19h1M16 19h1M39 19h1M41 19h2M62 19h1M11 20h1M15 20h1M31 20h1M57 20h1M74 20h1M7 21h1M10 21h1M40 21h3M61 21h1M42 22h1M65 22h1M13 23h1M15 23h1M18 23h1M21 23h1M59 23h1M83 23h1M13 24h1M18 24h1M42 24h1M59 24h1M12 25h2M20 25h1M58 25h1M67 25h1M3 26h1M18 26h1M28 26h1M41 26h1M58 26h1M87 26h1M15 27h1M18 27h1M23 27h1M32 27h1M42 27h1M59 27h2M65 27h1M5 28h1M16 28h1M31 28h1M42 28h1M64 28h1M84 28h1M9 29h1M13 29h2M16 29h1M32 29h1M36 29h2M40 29h1M59 29h1M62 29h1M65 29h1M80 29h1M16 30h1M22 30h1M39 30h1M64 30h1M7 31h1M11 31h1M20 31h1M34 31h1M41 31h2M60 31h1M2 32h1M8 32h1M12 32h1M17 32h1M19 32h1M33 32h1M38 32h1M42 32h1M57 32h2M60 32h1M64 32h1M67 32h1M8 33h1M13 33h1M15 33h1M21 33h1M40 33h1M42 33h1M57 33h1M59 33h2M70 33h2M23 34h2M41 34h1M57 34h1M60 34h2M67 34h1M71 34h1M9 35h1M11 35h1M20 35h2M26 35h1M40 35h1M58 35h2M61 35h1M17 36h1M22 36h1M31 36h1M33 36h1M35 36h1M57 36h1M59 36h1M78 36h1M86 36h1M15 37h1M27 37h1M34 37h2M39 37h1M63 37h1M73 37h1M6 38h1M10 38h1M20 38h1M38 38h1M40 38h2M60 38h2M64 38h1M66 38h1M69 38h1M78 38h1M87 38h1M39 39h2M58 39h1M3 40h1M9 40h1M13 40h1M35 40h1M39 40h2M60 40h1M62 40h1M66 40h1M33 41h1M36 41h2M39 41h1M61 41h1M64 41h1M7 42h1M34 42h1M38 42h1M60 42h2M71 42h1M4 43h1M15 43h1M31 43h1M33 43h1M37 43h1M59 43h1M61 43h1M18 44h1M33 44h1M36 44h1M59 44h2M71 44h1M2 45h1M15 45h1M37 45h1M61 45h2M79 45h1M17 46h2M34 46h2M61 46h1M68 46h1M70 46h1M82 46h2M2 47h1M4 47h1M9 47h1M21 47h1M36 47h1M60 47h2M64 47h1M66 47h1M21 48h1M24 48h1M35 48h1M68 48h1M88 48h1M21 49h1M26 49h1M61 49h1M88 49h1M1 50h1M17 50h1M35 50h1M63 50h1M82 50h1M3 51h1M5 51h1M10 51h1M24 51h1M29 51h1M62 51h1M23 52h1M32 52h1M34 52h1M63 52h2M68 52h1M76 52h1M87 52h1M14 53h1M21 53h1M32 53h1M63 53h1M65 53h1M68 53h1M25 54h1M33 54h1M72 54h1M1 55h1M7 55h1M9 55h1M16 55h3M31 55h1M70 55h1M80 55h1M6 56h1M8 56h1M26 56h1M33 56h1M63 56h1M74 56h1M77 56h1M2 57h1M12 57h1M24 57h1M72 57h2M1 58h1M5 58h3M9 58h3M17 58h1M21 58h1M25 58h1M29 58h1M31 58h1M64 58h2M74 58h1M3 59h1M9 59h1M15 59h1M29 59h3M64 59h1M66 59h1M74 59h1M86 59h1M15 60h1M23 60h2M26 60h1M32 60h1M0 61h1M7 61h1M10 61h1M14 61h1M16 61h3M22 61h1M25 61h1M27 61h1M30 61h2M66 61h1M2 62h1M5 62h1M12 62h1M14 62h1M17 62h1M19 62h1M22 62h1M25 62h1M28 62h1M30 62h1M32 62h1M65 62h2M87 62h1M2 63h1M5 63h1M8 63h1M12 63h2M17 63h1M22 63h1M27 63h1M30 63h2M64 63h1M68 63h2M73 63h1M2 64h1M5 64h1M8 64h1M10 64h2M13 64h2M16 64h1M19 64h1M21 64h1M25 64h3M30 64h3M86 64h1M8 65h1M13 65h1M16 65h1M19 65h1M27 65h1M65 65h3M70 65h1M5 66h1M12 66h1M16 66h1M26 66h1M31 66h1M65 66h1M11 67h1M14 67h1M31 67h1M65 67h1M1 68h1M4 68h3M9 68h5M27 68h2M64 68h1M69 68h1M3 69h1M7 69h1M9 69h1M14 69h1M20 69h1M26 69h3M32 69h1M64 69h2M71 69h1M74 69h1M85 69h1M9 70h2M15 70h1M23 70h1M29 70h1M31 70h2M66 70h1M1 71h1M4 71h1M6 71h2M9 71h1M25 71h1M27 71h1M32 71h1M1 72h1M4 72h1M7 72h1M9 72h2M14 72h1M25 72h1M30 72h1M64 72h2M2 73h1M7 73h1M9 73h1M13 73h2M17 73h1M23 73h1M30 73h1M64 73h1M6 74h1M9 74h1M12 74h2M16 74h2M19 74h1M30 74h1M65 74h2M69 74h1M11 75h1M14 75h2M20 75h1M22 75h1M29 75h1M31 75h2M65 75h1M69 75h1M75 75h1M79 75h1M5 76h1M8 76h1M10 76h1M16 76h1M18 76h1M22 76h1M31 76h2M63 76h1M71 76h1M6 77h1M11 77h2M14 77h2M21 77h1M23 77h3M29 77h1M33 77h1M64 77h1M66 77h1M6 78h1M9 78h1M14 78h1M23 78h2M30 78h1M65 78h1M6 79h1M8 79h1M11 79h1M14 79h3M21 79h2M32 79h2M65 79h1M70 79h1M3 80h1M8 80h2M12 80h4M18 80h1M21 80h1M29 80h2M33 80h1M64 80h1M75 80h1M3 81h1M12 81h1M15 81h3M34 81h1M62 81h1M75 81h1M2 82h1M6 82h1M9 82h1M13 82h1M18 82h1M26 82h1M28 82h1M33 82h1M62 82h1M64 82h1M66 82h1M69 82h1M85 82h1M4 83h3M13 83h1M20 83h2M24 83h1M35 83h1M61 83h1M68 83h1M72 83h1M75 83h1M79 83h1M0 84h1M4 84h1M25 84h1M27 84h1M32 84h1M34 84h1M64 84h1M66 84h1M69 84h1M0 85h1M21 85h1M34 85h1M2 86h1M6 86h1M26 86h1M32 86h1M36 86h1M62 86h1M81 86h1M0 87h1M12 87h1M14 87h2M32 87h1M34 87h1M36 87h2M59 87h3M67 87h1M71 87h1M0 88h1M10 88h1M17 88h2" stroke="#bcbcbc" stroke-width="1" fill="none"/>
<path transform="translate(0,.5)" d="M44 0h2M54 0h1M54 1h2M43 2h3M55 2h2M44 3h1M55 3h2M44 4h1M56 4h1M44 5h1M43 6h2M55 6h2M44 7h1M44 8h1M55 8h2M44 9h1M56 9h1M43 10h1M57 10h1M43 11h1M56 11h2M43 12h1M56 12h2M42 13h1M56 13h2M43 14h1M43 15h1M42 16h1M56 16h1M43 17h2M55 17h2M55 18h1M55 19h2M43 20h2M56 20h1M44 21h1M44 22h1M55 22h2M43 23h2M55 23h1M43 24h2M55 24h2M44 25h1M54 25h2M43 26h1M45 26h1M55 26h2M43 27h2M54 27h3M44 28h2M54 28h3M45 29h1M55 29h1M43 30h2M53 30h2M56 30h1M43 31h3M53 31h4M44 32h3M54 32h3M44 33h2M53 33h2M43 34h4M54 34h1M43 35h2M56 35h1M53 36h1M56 36h1M42 37h3M46 37h1M53 37h4M43 38h1M45 38h2M53 38h1M55 38h2M41 39h1M44 39h2M53 39h4M41 40h4M40 41h6M55 41h2M40 42h1M43 42h2M54 42h2M57 42h1M41 43h3M54 43h2M57 43h1M42 44h2M55 44h3M39 45h4M57 45h2M38 46h5M55 46h2M59 46h1M37 47h3M41 47h1M56 47h2M38 48h3M56 48h2M37 49h4M57 49h1M60 49h1M36 50h2M39 50h1M58 50h3M36 51h4M58 51h1M60 51h2M36 52h2M58 52h4M36 53h3M59 53h2M34 54h2M62 54h1M59 55h4M37 56h1M59 56h3M35 57h3M60 57h2M33 58h3M60 58h2M63 58h1M33 59h1M36 59h1M61 59h3M34 60h3M61 60h3M34 61h3M60 61h4M35 62h2M60 62h1M62 62h2M34 63h1M61 63h2M34 64h1M61 64h3M33 65h1M35 65h1M62 65h2M32 66h4M63 66h1M32 67h1M34 67h2M62 67h2M34 68h2M61 68h2M34 69h2M63 69h1M33 70h3M61 70h1M33 71h2M60 71h4M33 72h4M62 72h1M35 73h2M60 73h3M33 74h3M60 74h3M33 75h1M36 75h1M60 75h1M62 75h2M34 76h2M37 76h1M60 76h2M35 77h3M59 77h3M35 78h1M37 78h1M59 78h3M34 79h2M37 79h1M59 79h2M62 79h1M36 80h3M58 80h3M35 81h2M38 81h1M58 81h2M61 81h1M35 82h1M37 82h3M58 82h1M36 83h4M57 83h2M36 84h5M57 84h1M59 84h2M36 85h2M40 85h2M55 85h3M59 85h2M37 86h5M54 86h1M56 86h3M39 87h5M55 87h2M39 88h1M41 88h5M51 88h8" stroke="#a0a0a0" stroke-width="1" fill="none"/>
<path transform="translate(0,.5)" d="M46 0h3M50 0h1M52 0h2M46 1h8M46 2h8M46 3h8M46 4h9M45 5h9M45 6h1M47 6h8M45 7h10M45 8h10M45 9h10M44 10h12M44 11h12M44 12h10M55 12h1M44 13h12M45 14h11M44 15h12M44 16h11M45 17h10M45 18h10M46 19h9M45 20h10M45 21h10M45 22h10M45 23h7M54 23h1M45 24h2M48 24h7M46 25h8M46 26h5M52 26h2M46 27h8M46 28h8M46 29h8M47 30h3M51 30h2M47 31h2M50 31h3M47 32h6M47 33h6M48 34h1M51 34h1M50 35h3M47 36h6M47 37h2M50 37h3M47 38h6M46 39h6M46 40h1M48 40h5M46 41h4M52 41h2M45 42h9M45 43h1M48 43h6M46 44h2M49 44h6M45 45h10M43 46h5M49 46h6M43 47h5M49 47h2M52 47h4M42 48h13M41 49h9M51 49h6M40 50h1M42 50h15M41 51h16M39 52h18M39 53h6M46 53h12M38 54h1M40 54h19M39 55h20M38 56h21M38 57h1M40 57h17M38 58h22M37 59h1M39 59h20M37 60h23M38 61h20M59 61h1M37 62h22M36 63h25M36 64h25M36 65h2M39 65h19M37 66h23M36 67h25M37 68h3M41 68h15M57 68h3M36 69h25M36 70h22M60 70h1M37 71h1M39 71h1M41 71h19M37 72h1M39 72h10M50 72h10M37 73h21M59 73h1M37 74h23M38 75h16M55 75h5M38 76h2M41 76h19M38 77h19M58 77h1M39 78h8M48 78h11M38 79h20M39 80h3M43 80h15M40 81h4M45 81h13M41 82h15M40 83h3M44 83h13M41 84h11M53 84h3M43 85h11M43 86h11M44 87h6M51 87h2M46 88h4" stroke="#8e8e8e" stroke-width="1" fill="none"/>
</g>
<g transform="translate(313.1,437.8)">
<rect x="0" y="0" width="88.7" height="88.5" fill="none" stroke="#555" stroke-width="1"/>
<path d="M30.1 0V88.5M0 49.6H88.7" stroke="#666" stroke-width="1"/>
<path d="M12 88.5v4M18.62 88.5v2.5M22.5 88.5v2.5M0.5 88.5v2.5M25.25 88.5v2.5M3.25 88.5v2.5M27.38 88.5v2.5M5.38 88.5v2.5M29.12 88.5v2.5M7.12 88.5v2.5M30.59 88.5v2.5M8.59 88.5v2.5M31.87 88.5v2.5M9.87 88.5v2.5M32.99 88.5v2.5M10.99 88.5v2.5M34 88.5v4M40.62 88.5v2.5M44.5 88.5v2.5M47.25 88.5v2.5M49.38 88.5v2.5M51.12 88.5v2.5M52.59 88.5v2.5M53.87 88.5v2.5M54.99 88.5v2.5M56 88.5v4M62.62 88.5v2.5M66.5 88.5v2.5M69.25 88.5v2.5M71.38 88.5v2.5M73.12 88.5v2.5M74.59 88.5v2.5M75.87 88.5v2.5M76.99 88.5v2.5M78 88.5v4M84.62 88.5v2.5M88.5 88.5v2.5M0 76h-4M0 69.38h-2.5M0 65.5h-2.5M0 87.5h-2.5M0 62.75h-2.5M0 84.75h-2.5M0 60.62h-2.5M0 82.62h-2.5M0 58.88h-2.5M0 80.88h-2.5M0 57.41h-2.5M0 79.41h-2.5M0 56.13h-2.5M0 78.13h-2.5M0 55.01h-2.5M0 77.01h-2.5M0 54h-4M0 47.38h-2.5M0 43.5h-2.5M0 40.75h-2.5M0 38.62h-2.5M0 36.88h-2.5M0 35.41h-2.5M0 34.13h-2.5M0 33.01h-2.5M0 32h-4M0 25.38h-2.5M0 21.5h-2.5M0 18.75h-2.5M0 16.62h-2.5M0 14.88h-2.5M0 13.41h-2.5M0 12.13h-2.5M0 11.01h-2.5M0 10h-4M0 3.38h-2.5" stroke="#555" stroke-width=".7"/>
<text x="8.5" y="99.5" font-size="6.2">10<tspan dy="-2.8" font-size="4.6">2</tspan></text>
<text x="30.5" y="99.5" font-size="6.2">10<tspan dy="-2.8" font-size="4.6">3</tspan></text>
<text x="52.5" y="99.5" font-size="6.2">10<tspan dy="-2.8" font-size="4.6">4</tspan></text>
<text x="74.5" y="99.5" font-size="6.2">10<tspan dy="-2.8" font-size="4.6">5</tspan></text>
<text transform="translate(-4.8,80) rotate(-90)" font-size="6.2">10<tspan dy="-2.8" font-size="4.6">2</tspan></text>
<text transform="translate(-4.8,58) rotate(-90)" font-size="6.2">10<tspan dy="-2.8" font-size="4.6">3</tspan></text>
<text transform="translate(-4.8,36) rotate(-90)" font-size="6.2">10<tspan dy="-2.8" font-size="4.6">4</tspan></text>
<text transform="translate(-4.8,14) rotate(-90)" font-size="6.2">10<tspan dy="-2.8" font-size="4.6">5</tspan></text>
</g>
<text x="319.6" y="454.7" font-size="9.3">0.7%</text>
<text x="374.3" y="454.5" font-size="9.3">39.1%</text>
<text x="319.6" y="514.1" font-size="9.3">7.1%</text>
<text x="374.3" y="514.1" font-size="9.3">53.2%</text>
<g transform="translate(428,438)" filter="url(#bl)">
<path transform="translate(0,.5)" d="M39 0h1M65 0h1M69 0h1M37 1h1M41 1h1M67 1h1M69 1h1M42 2h1M69 2h1M78 2h1M67 3h1M30 4h1M39 4h2M79 4h1M85 4h1M88 4h1M40 6h1M67 6h1M33 7h1M35 7h1M41 7h1M65 7h1M76 7h1M34 8h1M41 8h1M66 8h1M84 8h1M41 9h1M64 9h1M76 9h1M26 10h1M66 10h1M19 11h2M64 11h1M73 11h2M12 12h1M37 12h1M63 12h1M76 12h1M63 13h1M65 13h1M80 13h1M40 14h1M70 14h1M83 14h1M40 15h1M64 15h1M88 15h1M32 17h1M39 17h2M62 17h1M64 17h1M38 18h3M81 18h1M40 19h1M66 19h1M87 19h1M36 20h1M39 20h2M61 20h1M63 20h1M62 21h1M73 21h1M30 22h1M38 22h1M62 22h1M38 23h1M40 23h1M60 23h1M68 23h1M75 23h1M80 23h1M6 24h1M22 24h1M26 24h1M36 24h1M60 24h1M24 25h1M26 25h1M40 25h1M38 26h1M59 26h1M36 27h1M59 27h1M38 28h2M59 28h1M63 28h1M15 29h1M31 29h1M38 29h1M41 29h1M71 29h1M76 29h2M59 30h1M61 30h1M39 31h1M59 31h1M20 32h2M37 32h2M57 32h1M70 32h1M36 33h1M57 33h1M64 33h1M74 33h1M78 33h1M13 34h1M15 34h1M17 34h1M41 34h1M58 34h2M2 35h1M16 35h1M36 35h1M57 35h3M63 35h2M8 36h1M13 36h1M56 36h1M69 36h1M77 36h1M22 37h1M31 37h3M37 37h1M40 37h1M56 37h3M79 37h1M11 38h1M37 38h1M65 38h1M17 39h1M32 39h1M41 39h1M56 39h1M40 40h2M58 40h1M60 40h1M74 40h1M32 41h1M36 41h1M1 42h1M19 42h1M26 42h1M58 42h1M12 43h1M16 43h2M28 43h1M31 43h1M37 43h1M55 43h3M79 43h1M30 44h2M34 44h2M40 44h1M55 44h4M71 44h1M1 45h1M5 45h1M13 45h1M31 45h1M39 45h1M60 45h1M75 45h1M10 46h1M33 46h1M35 46h1M37 46h1M57 46h1M61 46h1M70 46h1M77 46h1M36 47h2M55 47h2M58 47h1M68 47h1M14 48h1M32 48h2M35 48h2M58 48h2M62 48h2M72 48h1M57 49h1M70 49h1M2 50h1M21 50h1M81 50h1M26 52h1M33 52h1M56 52h1M58 52h1M60 52h1M1 53h1M14 53h1M22 53h1M57 53h2M61 53h1M83 53h1M13 54h1M18 54h1M23 54h2M27 54h2M30 54h2M58 54h3M63 54h1M29 55h1M31 55h1M57 55h1M64 55h1M77 55h1M86 55h1M1 56h1M14 56h1M16 56h1M23 56h1M57 56h1M59 56h1M62 56h1M66 56h1M73 56h1M87 56h1M15 57h1M18 57h1M20 57h1M29 57h1M31 57h1M59 57h1M64 57h1M82 57h1M17 58h1M20 58h2M58 58h1M66 58h1M5 59h1M22 59h1M29 59h2M59 59h2M81 59h1M84 59h1M9 60h1M14 60h2M18 60h2M24 60h1M27 60h2M58 60h2M62 60h1M4 61h1M17 61h1M20 61h1M22 61h1M24 61h1M26 61h1M28 61h2M58 61h3M63 61h1M67 61h1M13 62h2M18 62h1M30 62h1M59 62h1M62 62h1M80 62h1M6 63h1M12 63h1M20 63h1M23 63h1M28 63h1M59 63h1M61 63h1M63 63h1M14 64h1M21 64h2M24 64h1M29 64h2M61 64h1M63 64h1M65 64h1M15 65h1M17 65h1M19 65h1M30 65h1M64 65h1M6 66h1M8 66h1M11 66h3M19 66h1M59 66h2M64 66h1M1 67h1M12 67h1M14 67h1M18 67h2M29 67h2M59 67h2M64 67h2M6 68h1M8 68h1M11 68h1M15 68h1M25 68h1M64 68h1M5 69h1M11 69h1M13 69h1M15 69h1M59 69h2M3 70h1M11 70h1M18 70h1M21 70h1M23 70h3M30 70h1M69 70h1M0 71h1M3 71h1M6 71h1M10 71h1M14 71h2M25 71h1M27 71h1M60 71h2M3 72h1M8 72h1M10 72h1M15 72h1M58 72h1M60 72h1M63 72h1M72 72h1M78 72h1M80 72h1M3 73h4M8 73h1M11 73h1M16 73h2M20 73h1M31 73h1M60 73h1M64 73h1M5 74h1M8 74h1M13 74h2M16 74h1M18 74h1M23 74h1M29 74h3M62 74h1M73 74h1M86 74h1M12 75h2M17 75h1M24 75h1M33 75h1M65 75h1M82 75h1M88 75h1M7 76h1M15 76h1M17 76h2M28 76h1M60 76h1M5 77h1M8 77h1M10 77h1M13 77h2M20 77h1M22 77h1M31 77h1M34 77h1M59 77h1M69 77h1M72 77h1M20 78h1M33 78h1M60 78h1M62 78h3M1 79h1M7 79h1M19 79h1M32 79h3M13 80h1M20 80h1M36 80h1M60 80h1M5 81h1M11 81h1M21 81h2M25 81h1M27 81h1M32 81h1M35 81h1M82 81h1M1 82h1M4 82h1M17 82h1M19 82h1M22 82h1M35 82h4M56 82h2M80 82h1M0 83h1M4 83h1M8 83h1M11 83h1M14 83h1M38 83h1M57 83h1M63 83h1M81 83h1M15 84h1M22 84h1M36 84h4M56 84h1M71 84h1M14 85h3M35 85h1M40 85h1M54 85h1M59 85h1M81 85h1M21 86h1M24 86h1M26 86h1M36 86h1M38 86h1M41 86h1M53 86h1M56 86h1M13 87h1M38 87h3M42 87h1M44 87h1M51 87h1M53 87h1M55 87h1M58 87h1M60 87h1M87 87h1M8 88h2M41 88h1M43 88h2M46 88h2M51 88h1M53 88h2M60 88h1M62 88h1M78 88h1M80 88h1" stroke="#bcbcbc" stroke-width="1" fill="none"/>
<path transform="translate(0,.5)" d="M45 0h1M62 0h1M45 1h1M63 1h1M43 2h3M63 2h1M43 3h2M64 3h2M43 4h1M42 5h2M64 5h2M43 6h1M63 6h1M65 6h1M63 7h2M43 8h1M63 8h2M42 9h2M63 9h1M41 10h2M62 10h2M42 11h1M62 11h2M41 12h2M62 12h1M41 13h2M61 13h1M42 14h1M61 14h1M61 15h2M41 16h2M60 16h1M42 17h1M60 17h1M60 18h2M41 19h2M59 19h1M41 20h2M59 20h2M41 21h2M59 21h2M42 22h1M58 22h1M42 23h1M58 23h2M58 24h1M41 25h1M57 25h1M41 26h3M57 26h2M41 27h1M57 27h2M42 28h2M56 28h1M58 28h1M42 29h1M56 29h1M42 30h3M56 30h1M42 31h2M55 31h1M57 31h1M43 32h3M54 32h2M42 33h2M54 33h1M56 33h1M43 34h4M53 34h3M42 35h4M52 35h5M43 36h1M47 36h1M51 36h2M55 36h1M43 37h2M46 37h3M50 37h4M42 38h6M49 38h7M44 39h7M52 39h1M54 39h2M43 40h6M50 40h1M52 40h1M54 40h1M43 41h4M48 41h4M54 41h1M41 42h2M44 42h5M51 42h2M54 42h1M43 43h6M50 43h2M53 43h1M42 44h3M47 44h7M42 45h1M44 45h2M47 45h7M40 46h2M43 46h1M47 46h6M41 47h2M44 47h5M50 47h1M38 48h1M40 48h3M44 48h5M50 48h4M39 49h2M44 49h1M46 49h2M49 49h3M53 49h1M35 50h4M40 50h2M44 50h3M48 50h4M38 51h6M49 51h1M52 51h2M55 51h1M35 52h2M38 52h3M51 52h1M53 52h3M36 53h5M50 53h1M52 53h1M55 53h1M34 54h4M51 54h1M53 54h4M33 55h6M52 55h5M32 56h3M36 56h3M52 56h1M54 56h3M33 57h1M35 57h3M53 57h1M55 57h2M31 58h1M35 58h2M53 58h5M31 59h5M53 59h4M31 60h2M34 60h3M54 60h4M32 61h1M34 61h2M54 61h1M57 61h1M31 62h1M33 62h3M54 62h1M56 62h1M32 63h1M34 63h2M54 63h4M31 64h5M54 64h1M31 65h2M34 65h1M54 65h5M31 66h5M55 66h4M31 67h1M33 67h2M54 67h4M31 68h3M36 68h1M54 68h4M33 69h1M35 69h2M54 69h4M31 70h1M34 70h3M54 70h2M58 70h1M32 71h2M35 71h3M55 71h1M57 71h1M34 72h3M54 72h1M56 72h2M34 73h1M38 73h1M54 73h1M57 73h1M36 74h1M38 74h1M53 74h5M34 75h6M53 75h4M34 76h1M36 76h5M52 76h1M55 76h1M36 77h2M40 77h2M52 77h1M54 77h1M56 77h2M38 78h2M42 78h1M51 78h1M54 78h2M37 79h1M39 79h4M50 79h5M38 80h1M41 80h10M52 80h1M54 80h1M39 81h1M41 81h1M43 81h1M46 81h1M48 81h1M52 81h1M54 81h2M39 82h1M41 82h12M55 82h1M40 83h1M43 83h6M50 83h4M41 84h1M43 84h1M45 84h6M52 84h2M43 85h1M45 85h2M48 85h2M51 85h1M43 86h1M45 86h1M47 86h1M49 86h1M45 87h1M49 87h2" stroke="#a0a0a0" stroke-width="1" fill="none"/>
<path transform="translate(0,.5)" d="M47 0h14M46 1h15M46 2h17M45 3h18M45 4h19M44 5h20M45 6h17M44 7h19M44 8h19M44 9h18M43 10h19M43 11h19M43 12h2M46 12h16M43 13h16M60 13h1M43 14h18M43 15h18M43 16h17M43 17h17M44 18h16M43 19h16M43 20h16M43 21h16M43 22h1M45 22h13M44 23h12M43 24h14M43 25h13M44 26h9M54 26h3M44 27h13M44 28h12M44 29h1M46 29h10M46 30h1M48 30h7M45 31h10M46 32h8M46 33h6M53 33h1M47 34h6M47 35h5M48 36h3M44 51h5M42 52h8M41 53h7M49 53h1M40 54h5M46 54h5M39 55h13M39 56h13M38 57h3M42 57h3M46 57h2M49 57h3M38 58h3M42 58h11M37 59h5M43 59h7M51 59h2M37 60h2M40 60h3M44 60h1M46 60h5M52 60h2M36 61h1M38 61h2M41 61h13M36 62h2M39 62h1M41 62h11M53 62h1M36 63h4M41 63h11M36 64h18M37 65h2M40 65h2M43 65h11M36 66h18M36 67h6M43 67h1M45 67h9M38 68h15M37 69h1M39 69h8M48 69h6M37 70h15M53 70h1M38 71h3M42 71h10M53 71h1M38 72h6M46 72h4M51 72h3M39 73h3M43 73h6M50 73h2M53 73h1M41 74h1M43 74h10M40 75h13M41 76h11M42 77h2M45 77h1M47 77h4M43 78h5M50 78h1M44 79h4M49 79h1" stroke="#8e8e8e" stroke-width="1" fill="none"/>
</g>
<g transform="translate(428.6,437.8)">
<rect x="0" y="0" width="88.7" height="88.5" fill="none" stroke="#555" stroke-width="1"/>
<path d="M29.9 0V88.5M0 49.5H88.7" stroke="#666" stroke-width="1"/>
<path d="M12 88.5v4M18.62 88.5v2.5M22.5 88.5v2.5M0.5 88.5v2.5M25.25 88.5v2.5M3.25 88.5v2.5M27.38 88.5v2.5M5.38 88.5v2.5M29.12 88.5v2.5M7.12 88.5v2.5M30.59 88.5v2.5M8.59 88.5v2.5M31.87 88.5v2.5M9.87 88.5v2.5M32.99 88.5v2.5M10.99 88.5v2.5M34 88.5v4M40.62 88.5v2.5M44.5 88.5v2.5M47.25 88.5v2.5M49.38 88.5v2.5M51.12 88.5v2.5M52.59 88.5v2.5M53.87 88.5v2.5M54.99 88.5v2.5M56 88.5v4M62.62 88.5v2.5M66.5 88.5v2.5M69.25 88.5v2.5M71.38 88.5v2.5M73.12 88.5v2.5M74.59 88.5v2.5M75.87 88.5v2.5M76.99 88.5v2.5M78 88.5v4M84.62 88.5v2.5M88.5 88.5v2.5M0 76h-4M0 69.38h-2.5M0 65.5h-2.5M0 87.5h-2.5M0 62.75h-2.5M0 84.75h-2.5M0 60.62h-2.5M0 82.62h-2.5M0 58.88h-2.5M0 80.88h-2.5M0 57.41h-2.5M0 79.41h-2.5M0 56.13h-2.5M0 78.13h-2.5M0 55.01h-2.5M0 77.01h-2.5M0 54h-4M0 47.38h-2.5M0 43.5h-2.5M0 40.75h-2.5M0 38.62h-2.5M0 36.88h-2.5M0 35.41h-2.5M0 34.13h-2.5M0 33.01h-2.5M0 32h-4M0 25.38h-2.5M0 21.5h-2.5M0 18.75h-2.5M0 16.62h-2.5M0 14.88h-2.5M0 13.41h-2.5M0 12.13h-2.5M0 11.01h-2.5M0 10h-4M0 3.38h-2.5" stroke="#555" stroke-width=".7"/>
<text x="8.5" y="99.5" font-size="6.2">10<tspan dy="-2.8" font-size="4.6">2</tspan></text>
<text x="30.5" y="99.5" font-size="6.2">10<tspan dy="-2.8" font-size="4.6">3</tspan></text>
<text x="52.5" y="99.5" font-size="6.2">10<tspan dy="-2.8" font-size="4.6">4</tspan></text>
<text x="74.5" y="99.5" font-size="6.2">10<tspan dy="-2.8" font-size="4.6">5</tspan></text>
<text transform="translate(-4.8,80) rotate(-90)" font-size="6.2">10<tspan dy="-2.8" font-size="4.6">2</tspan></text>
<text transform="translate(-4.8,58) rotate(-90)" font-size="6.2">10<tspan dy="-2.8" font-size="4.6">3</tspan></text>
<text transform="translate(-4.8,36) rotate(-90)" font-size="6.2">10<tspan dy="-2.8" font-size="4.6">4</tspan></text>
<text transform="translate(-4.8,14) rotate(-90)" font-size="6.2">10<tspan dy="-2.8" font-size="4.6">5</tspan></text>
</g>
<text x="435.1" y="454.8" font-size="9.3">0.2%</text>
<text x="490" y="454.8" font-size="9.3">73.2%</text>
<text x="435.1" y="512.9" font-size="9.3">3.5%</text>
<text x="490" y="512.9" font-size="9.3">23.1%</text>
<g transform="translate(63,569)" filter="url(#bl)">
<path transform="translate(0,.5)" d="M59 0h1M84 0h1M33 4h1M60 4h1M69 6h1M42 7h1M85 8h1M88 8h1M40 9h2M32 11h1M63 11h1M71 11h1M73 11h1M50 12h1M1 13h1M46 13h1M56 13h1M62 13h1M76 13h1M79 13h1M14 14h1M24 14h1M45 14h1M70 14h1M37 15h1M45 15h1M59 15h1M87 15h1M43 17h1M48 17h1M43 18h1M45 18h1M51 18h1M66 18h2M40 19h1M56 19h1M30 20h1M34 21h1M46 21h1M51 21h1M18 22h1M36 22h1M40 22h1M48 22h1M52 22h1M68 23h1M27 24h1M38 24h1M46 24h1M50 24h2M61 24h1M4 25h1M83 25h1M87 25h2M36 26h1M41 26h1M45 26h1M48 26h1M44 27h1M46 27h1M59 27h1M32 28h1M37 28h2M58 28h1M36 29h1M87 29h1M1 30h1M41 30h1M43 30h2M56 30h2M60 30h1M70 30h1M40 31h4M65 31h1M39 32h1M41 32h1M33 33h1M54 33h1M65 33h1M36 34h3M29 35h1M35 35h1M53 35h1M2 36h1M36 36h1M52 36h1M56 36h1M61 36h1M81 36h1M5 37h1M14 37h1M34 37h1M51 37h1M54 37h1M64 37h1M72 37h1M6 38h1M32 38h2M51 38h1M68 38h1M81 38h1M3 39h1M10 39h1M34 39h1M51 39h1M53 39h2M83 39h1M13 40h1M51 40h2M55 40h1M64 40h1M69 40h1M12 41h1M33 41h1M53 41h2M5 42h2M32 42h1M51 42h1M59 42h1M3 43h1M56 43h1M60 43h1M68 43h1M72 43h1M18 44h1M20 44h1M51 44h3M9 45h1M18 45h1M33 45h2M52 45h1M54 45h2M60 45h1M64 45h1M10 46h1M25 46h2M33 46h1M52 46h1M55 46h2M8 47h1M11 47h1M52 47h1M14 48h1M33 48h1M36 48h1M5 49h1M9 49h1M15 49h1M29 49h1M31 49h1M53 49h3M0 50h1M3 50h1M5 50h1M9 50h1M53 50h1M3 51h1M15 51h1M21 51h1M37 51h1M53 51h1M55 51h2M59 51h1M0 52h1M6 52h2M9 52h1M11 52h1M15 52h1M28 52h1M30 52h1M32 52h2M35 52h2M54 52h1M60 52h1M4 53h2M7 53h2M17 53h2M21 53h1M25 53h1M33 53h1M35 53h1M55 53h1M58 53h1M72 53h1M80 53h1M2 54h1M6 54h1M10 54h1M13 54h1M18 54h1M35 54h1M4 55h1M8 55h1M12 55h2M19 55h1M23 55h1M36 55h1M1 56h1M3 56h1M6 56h1M11 56h1M21 56h1M23 56h1M27 56h1M33 56h1M35 56h1M57 56h1M83 56h1M86 56h1M0 57h1M4 57h1M7 57h1M9 57h2M13 57h1M23 57h2M32 57h1M34 57h1M80 57h1M83 57h1M5 58h1M8 58h1M19 58h1M21 58h1M24 58h1M34 58h2M58 58h1M4 59h1M8 59h1M10 59h1M13 59h1M22 59h1M24 59h1M27 59h1M29 59h2M32 59h1M55 59h1M0 60h1M5 60h1M15 60h1M18 60h1M20 60h4M32 60h1M74 60h1M2 61h4M16 61h2M19 61h1M31 61h1M34 61h1M0 62h2M3 62h1M16 62h1M21 62h1M23 62h1M25 62h1M28 62h1M33 62h2M56 62h1M60 62h1M16 63h2M19 63h1M25 63h1M33 63h1M57 63h2M84 63h1M0 64h2M17 64h1M23 64h2M31 64h1M34 64h1M60 64h1M80 64h1M86 64h1M23 65h1M30 65h3M34 65h1M56 65h1M59 65h2M66 65h1M70 65h1M76 65h1M0 66h1M2 66h1M17 66h1M19 66h3M23 66h1M27 66h1M29 66h1M31 66h3M58 66h1M1 67h2M20 67h2M24 67h1M31 67h2M34 67h1M56 67h1M60 67h1M1 68h1M19 68h1M22 68h1M32 68h1M61 68h1M79 68h1M83 68h1M0 69h1M20 69h2M23 69h1M25 69h1M28 69h2M56 69h1M79 69h1M2 70h1M17 70h2M20 70h1M22 70h1M29 70h1M34 70h1M57 70h1M76 70h1M2 71h1M17 71h2M23 71h1M29 71h1M33 71h2M59 71h1M62 71h3M1 72h1M19 72h1M22 72h1M27 72h1M29 72h1M34 72h1M57 72h1M59 72h1M84 72h1M1 73h2M17 73h1M21 73h2M24 73h1M26 73h1M28 73h1M32 73h1M0 74h1M3 74h1M17 74h1M23 74h1M29 74h2M57 74h1M61 74h1M65 74h1M78 74h1M88 74h1M1 75h2M18 75h1M24 75h1M56 75h1M65 75h1M2 76h2M5 76h1M17 76h1M21 76h1M23 76h3M29 76h1M33 76h1M56 76h2M59 76h1M82 76h1M0 77h1M5 77h2M13 77h1M16 77h1M25 77h1M31 77h1M35 77h1M55 77h1M78 77h1M6 78h1M9 78h3M14 78h1M17 78h1M19 78h1M32 78h1M34 78h1M58 78h1M61 78h1M0 79h1M2 79h1M5 79h1M8 79h2M12 79h3M16 79h1M19 79h1M35 79h1M55 79h2M86 79h1M1 80h1M3 80h4M9 80h1M12 80h2M16 80h2M20 80h1M23 80h1M28 80h1M35 80h1M56 80h1M58 80h1M0 81h1M7 81h2M18 81h1M20 81h1M25 81h1M31 81h1M33 81h1M35 81h2M55 81h1M68 81h1M5 82h4M11 82h3M17 82h1M34 82h1M36 82h1M65 82h1M0 83h1M8 83h3M13 83h2M18 83h1M29 83h1M33 83h2M56 83h1M68 83h1M88 83h1M4 84h2M10 84h4M56 84h1M4 85h1M12 85h1M15 85h3M21 85h1M27 85h1M34 85h1M37 85h1M0 86h2M4 86h2M7 86h1M11 86h1M15 86h1M17 86h1M19 86h1M30 86h1M34 86h1M36 86h1M54 86h2M60 86h1M82 86h2M1 87h1M3 87h1M7 87h1M10 87h1M13 87h1M15 87h1M25 87h1M54 87h1M4 88h1M7 88h1M14 88h1M17 88h1M19 88h1M34 88h1M37 88h1M54 88h1" stroke="#bcbcbc" stroke-width="1" fill="none"/>
<path transform="translate(0,.5)" d="M71 6h2M69 7h1M72 7h1M68 8h1M72 8h1M67 9h1M71 9h1M65 11h1M70 11h1M64 12h1M69 12h1M63 13h1M68 13h1M62 14h1M61 15h1M67 15h1M60 16h1M59 17h1M66 17h1M57 19h1M64 19h1M56 20h1M64 20h1M55 21h1M54 22h1M53 23h1M61 23h1M52 24h1M60 24h1M51 25h1M59 25h2M59 26h1M48 27h1M58 27h1M48 28h1M57 28h1M56 29h1M55 30h1M44 31h1M54 31h1M43 32h1M40 33h3M39 34h2M52 34h1M38 35h2M51 35h1M37 36h1M39 36h1M36 37h2M50 37h1M35 38h3M50 38h1M35 39h2M49 39h2M35 40h1M48 40h3M34 41h1M48 41h3M34 42h1M47 42h2M33 43h1M46 43h4M46 44h3M50 44h1M35 45h1M45 45h2M48 45h2M36 46h1M44 46h3M48 46h4M36 47h1M43 47h2M46 47h1M48 47h1M50 47h2M37 48h2M43 48h7M37 49h1M39 49h6M46 49h2M49 49h2M38 50h6M48 50h5M41 51h2M48 51h5M37 52h5M49 52h1M51 52h3M37 53h2M40 53h2M50 53h4M37 54h1M39 54h1M50 54h3M37 55h2M40 55h1M50 55h2M37 56h1M39 56h2M51 56h2M51 57h2M37 58h1M39 58h1M51 58h2M36 59h4M51 59h4M8 60h2M11 60h1M38 60h2M51 60h1M53 60h2M6 61h1M9 61h3M13 61h1M38 61h2M52 61h3M6 62h1M10 62h1M13 62h2M35 62h5M53 62h2M5 63h1M12 63h3M35 63h4M52 63h3M3 64h2M7 64h2M12 64h1M14 64h2M35 64h3M52 64h2M4 65h2M8 65h2M11 65h2M14 65h1M35 65h4M52 65h1M3 66h1M5 66h3M10 66h1M12 66h3M35 66h1M38 66h1M52 66h3M4 67h1M6 67h1M9 67h1M11 67h2M14 67h3M35 67h3M52 67h2M3 68h2M12 68h2M38 68h1M52 68h3M3 69h3M7 69h1M9 69h1M11 69h2M14 69h1M35 69h4M53 69h1M55 69h1M5 70h4M11 70h1M13 70h1M35 70h1M37 70h2M52 70h2M7 71h2M10 71h1M15 71h2M36 71h3M52 71h2M55 71h1M3 72h1M6 72h1M8 72h1M10 72h2M13 72h1M15 72h1M36 72h1M38 72h1M52 72h2M55 72h1M6 73h1M8 73h1M10 73h1M12 73h1M14 73h1M36 73h4M52 73h2M55 73h1M7 74h6M15 74h1M37 74h1M39 74h1M53 74h2M6 75h2M10 75h1M12 75h1M14 75h1M37 75h1M39 75h1M52 75h3M6 76h6M13 76h1M38 76h2M52 76h3M7 77h3M11 77h1M38 77h2M53 77h2M36 78h1M38 78h1M52 78h2M36 79h2M39 79h1M53 79h1M37 80h1M39 80h2M51 80h3M37 81h1M39 81h1M51 81h1M53 81h1M38 82h2M51 82h2M54 82h1M37 83h1M40 83h1M54 83h1M37 84h5M51 84h3M39 85h3M50 85h2M53 85h1M38 86h4M50 86h1M38 87h2M50 87h2M53 87h1M38 88h5M50 88h1M52 88h1" stroke="#a0a0a0" stroke-width="1" fill="none"/>
<path transform="translate(0,.5)" d="M70 7h1M70 8h2M68 9h2M67 10h4M66 11h3M65 12h2M68 12h1M64 13h4M63 14h5M62 15h3M66 15h1M62 16h4M60 17h6M59 18h6M58 19h6M57 20h3M61 20h2M56 21h7M55 22h6M54 23h1M56 23h5M53 24h5M59 24h1M52 25h7M51 26h8M50 27h5M56 27h2M49 28h6M56 28h1M48 29h8M47 30h8M46 31h8M44 32h9M43 33h10M42 34h10M41 35h5M47 35h4M40 36h9M50 36h1M39 37h11M38 38h1M40 38h9M37 39h12M36 40h7M44 40h4M35 41h12M35 42h12M35 43h11M35 44h7M44 44h2M36 45h9M37 46h7M38 47h5M39 48h2M45 49h1M44 50h4M43 51h2M46 51h2M43 52h4M43 53h7M41 54h1M43 54h7M43 55h7M42 56h9M40 57h10M40 58h11M40 59h1M42 59h9M40 60h11M40 61h9M41 62h9M51 62h1M40 63h1M42 63h10M39 64h1M41 64h9M51 64h1M39 65h13M42 66h8M51 66h1M39 67h13M39 68h13M41 69h11M39 70h2M42 70h1M44 70h8M39 71h13M39 72h12M40 73h5M46 73h6M40 74h11M40 75h12M40 76h11M40 77h11M40 78h12M40 79h12M41 80h9M41 81h6M49 81h2M41 82h10M41 83h10M42 84h1M44 84h7M42 85h1M44 85h6M42 86h1M45 86h5M43 87h7M43 88h6" stroke="#8e8e8e" stroke-width="1" fill="none"/>
</g>
<g transform="translate(63.6,568.5)">
<rect x="0" y="0" width="88.7" height="88.5" fill="none" stroke="#555" stroke-width="1"/>
<path d="M29.7 0V88.5M0 50.7H88.7" stroke="#666" stroke-width="1"/>
<path d="M12 88.5v4M18.62 88.5v2.5M22.5 88.5v2.5M0.5 88.5v2.5M25.25 88.5v2.5M3.25 88.5v2.5M27.38 88.5v2.5M5.38 88.5v2.5M29.12 88.5v2.5M7.12 88.5v2.5M30.59 88.5v2.5M8.59 88.5v2.5M31.87 88.5v2.5M9.87 88.5v2.5M32.99 88.5v2.5M10.99 88.5v2.5M34 88.5v4M40.62 88.5v2.5M44.5 88.5v2.5M47.25 88.5v2.5M49.38 88.5v2.5M51.12 88.5v2.5M52.59 88.5v2.5M53.87 88.5v2.5M54.99 88.5v2.5M56 88.5v4M62.62 88.5v2.5M66.5 88.5v2.5M69.25 88.5v2.5M71.38 88.5v2.5M73.12 88.5v2.5M74.59 88.5v2.5M75.87 88.5v2.5M76.99 88.5v2.5M78 88.5v4M84.62 88.5v2.5M88.5 88.5v2.5M0 76h-4M0 69.38h-2.5M0 65.5h-2.5M0 87.5h-2.5M0 62.75h-2.5M0 84.75h-2.5M0 60.62h-2.5M0 82.62h-2.5M0 58.88h-2.5M0 80.88h-2.5M0 57.41h-2.5M0 79.41h-2.5M0 56.13h-2.5M0 78.13h-2.5M0 55.01h-2.5M0 77.01h-2.5M0 54h-4M0 47.38h-2.5M0 43.5h-2.5M0 40.75h-2.5M0 38.62h-2.5M0 36.88h-2.5M0 35.41h-2.5M0 34.13h-2.5M0 33.01h-2.5M0 32h-4M0 25.38h-2.5M0 21.5h-2.5M0 18.75h-2.5M0 16.62h-2.5M0 14.88h-2.5M0 13.41h-2.5M0 12.13h-2.5M0 11.01h-2.5M0 10h-4M0 3.38h-2.5" stroke="#555" stroke-width=".7"/>
<text x="8.5" y="99.5" font-size="6.2">10<tspan dy="-2.8" font-size="4.6">2</tspan></text>
<text x="30.5" y="99.5" font-size="6.2">10<tspan dy="-2.8" font-size="4.6">3</tspan></text>
<text x="52.5" y="99.5" font-size="6.2">10<tspan dy="-2.8" font-size="4.6">4</tspan></text>
<text x="74.5" y="99.5" font-size="6.2">10<tspan dy="-2.8" font-size="4.6">5</tspan></text>
<text transform="translate(-4.8,80) rotate(-90)" font-size="6.2">10<tspan dy="-2.8" font-size="4.6">2</tspan></text>
<text transform="translate(-4.8,58) rotate(-90)" font-size="6.2">10<tspan dy="-2.8" font-size="4.6">3</tspan></text>
<text transform="translate(-4.8,36) rotate(-90)" font-size="6.2">10<tspan dy="-2.8" font-size="4.6">4</tspan></text>
<text transform="translate(-4.8,14) rotate(-90)" font-size="6.2">10<tspan dy="-2.8" font-size="4.6">5</tspan></text>
</g>
<text x="69.5" y="612.2" font-size="9.3">0%</text>
<text x="124" y="612.2" font-size="9.3">28.8%</text>
<text x="64" y="642.1" font-size="9.3">12.2%</text>
<text x="124" y="642.1" font-size="9.3">59%</text>
<g transform="translate(180,569)" filter="url(#bl)">
<path transform="translate(0,.5)" d="M85 0h1M17 1h1M67 2h1M16 4h1M43 4h1M37 5h1M65 5h1M81 5h1M42 6h1M60 6h1M63 6h1M31 7h1M60 7h1M62 7h1M64 7h2M68 7h1M69 8h1M30 9h1M39 9h1M45 9h1M48 9h1M59 9h1M61 9h2M60 10h1M68 10h1M73 10h1M83 10h1M32 11h1M37 11h1M39 11h1M48 11h1M56 11h1M59 11h1M88 11h1M4 13h1M44 13h1M58 13h1M70 13h1M81 13h1M24 14h1M53 14h1M56 14h1M66 14h1M68 14h1M52 15h2M85 15h1M22 16h1M24 16h1M35 16h1M53 16h1M55 16h1M64 16h1M66 16h1M68 16h1M70 16h1M75 16h1M43 17h1M45 17h1M48 17h1M54 17h1M64 17h1M44 18h1M52 18h1M0 19h1M16 19h1M36 19h1M45 19h1M50 19h1M62 19h1M64 19h1M27 20h1M39 20h1M18 21h1M50 21h1M60 21h1M66 21h1M68 21h1M74 21h1M48 22h1M59 22h1M61 22h3M8 23h1M45 23h1M48 23h1M59 23h1M62 23h1M13 24h1M20 24h1M22 24h1M43 24h1M46 24h2M58 24h1M64 24h1M9 25h1M12 25h1M17 25h1M41 25h1M44 25h1M46 25h1M57 25h1M8 26h1M10 26h1M13 26h1M56 26h1M2 27h1M9 27h1M13 27h2M22 27h1M31 27h2M35 27h1M41 27h1M44 27h1M11 28h2M18 28h1M39 28h1M42 28h2M80 28h1M15 29h1M29 29h1M41 29h1M55 29h1M0 30h1M5 30h2M15 30h1M20 30h1M30 30h1M39 30h3M54 30h1M81 30h1M10 31h1M15 31h1M20 31h1M32 31h1M54 31h1M23 32h1M63 32h1M66 32h1M8 33h1M39 33h1M52 33h1M55 33h1M67 33h1M6 34h1M21 34h1M25 34h1M38 34h1M50 34h1M56 34h1M58 34h1M71 34h1M8 35h1M36 35h1M38 35h1M9 36h1M12 36h1M15 36h1M27 36h1M31 36h1M50 36h1M61 36h1M8 37h1M13 37h1M38 37h1M53 37h2M76 37h1M1 38h1M36 38h1M49 38h2M54 38h1M82 38h1M18 39h1M37 39h1M39 39h2M47 39h2M50 39h2M59 39h1M61 39h1M76 39h1M14 40h1M39 40h1M47 40h5M56 40h1M71 40h1M9 41h1M41 41h2M46 41h1M50 41h4M60 41h1M0 42h1M33 42h1M46 42h2M6 43h1M13 43h1M28 43h1M30 43h1M42 43h1M49 43h1M37 44h1M39 44h1M41 44h2M57 44h1M60 44h1M68 44h1M79 44h1M87 44h1M23 45h1M35 45h1M39 45h2M53 45h3M58 45h1M9 46h1M11 46h2M17 46h1M36 46h1M52 46h2M55 46h2M69 46h1M86 46h1M10 47h1M12 47h1M25 47h2M34 47h1M38 47h2M53 47h1M36 48h2M39 48h1M54 48h2M58 48h1M74 48h2M6 49h1M11 49h1M37 49h1M79 49h1M5 50h1M37 50h1M54 50h1M60 50h2M3 51h1M7 51h1M13 51h1M18 51h2M32 51h1M55 51h1M57 51h1M69 51h1M73 51h2M8 52h1M14 52h1M27 52h1M30 52h1M37 52h1M56 52h1M58 52h1M73 52h1M14 53h1M16 53h1M18 53h1M34 53h1M36 53h1M56 53h1M58 53h1M4 54h1M6 54h1M10 54h1M17 54h1M19 54h1M58 54h1M69 54h1M1 55h1M4 55h2M7 55h1M9 55h1M13 55h1M32 55h1M58 55h1M79 55h2M7 56h1M10 56h1M12 56h1M15 56h2M18 56h1M25 56h1M28 56h1M31 56h1M34 56h2M57 56h2M63 56h1M65 56h1M1 57h1M3 57h1M5 57h3M10 57h1M18 57h1M22 57h1M31 57h5M57 57h1M73 57h1M5 58h1M7 58h1M14 58h3M24 58h1M30 58h1M32 58h1M34 58h1M60 58h4M0 59h1M5 59h6M31 59h1M33 59h1M67 59h1M86 59h1M7 60h1M9 60h1M11 60h2M17 60h1M33 60h1M58 60h2M63 60h1M69 60h1M76 60h1M84 60h1M2 61h1M5 61h1M10 61h1M12 61h2M15 61h1M19 61h1M23 61h1M28 61h1M33 61h1M58 61h2M76 61h1M83 61h1M4 62h7M12 62h2M15 62h1M30 62h1M58 62h1M65 62h1M72 62h1M77 62h1M1 63h1M3 63h3M18 63h1M22 63h1M29 63h1M61 63h2M69 63h1M86 63h1M0 64h1M4 64h3M16 64h1M23 64h1M28 64h1M31 64h2M60 64h1M64 64h1M79 64h1M4 65h2M20 65h2M24 65h1M32 65h1M61 65h1M64 65h1M78 65h1M88 65h1M1 66h1M20 66h1M25 66h1M30 66h2M59 66h1M61 66h1M63 66h1M82 66h1M1 67h2M17 67h1M19 67h1M33 67h1M60 67h1M81 67h1M83 67h1M3 68h1M18 68h1M25 68h1M30 68h1M59 68h3M0 69h1M2 69h1M17 69h4M26 69h1M29 69h1M32 69h2M59 69h2M64 69h1M69 69h1M71 69h1M82 69h1M84 69h1M1 70h2M22 70h2M25 70h1M28 70h2M31 70h3M62 70h1M65 70h1M72 70h1M2 71h2M17 71h2M20 71h2M31 71h2M61 71h1M69 71h1M80 71h1M85 71h1M0 72h1M4 72h1M18 72h1M21 72h1M23 72h1M59 72h2M66 72h1M74 72h1M87 72h1M4 73h1M16 73h4M21 73h1M25 73h1M28 73h1M60 73h1M62 73h1M67 73h1M0 74h1M3 74h2M18 74h1M20 74h1M33 74h1M59 74h1M73 74h1M78 74h1M3 75h1M17 75h2M24 75h2M33 75h1M58 75h2M2 76h1M7 76h1M19 76h1M25 76h1M31 76h2M58 76h2M62 76h1M71 76h1M77 76h1M0 77h1M6 77h2M12 77h2M15 77h2M19 77h1M21 77h1M23 77h1M28 77h1M69 77h1M77 77h1M3 78h1M6 78h1M11 78h1M15 78h1M17 78h1M28 78h1M30 78h1M34 78h1M58 78h1M64 78h1M0 79h2M4 79h1M6 79h1M11 79h1M15 79h1M19 79h2M25 79h1M58 79h1M60 79h3M88 79h1M4 80h1M6 80h4M12 80h1M14 80h3M18 80h2M24 80h1M34 80h1M57 80h1M59 80h1M61 80h1M72 80h1M0 81h1M7 81h1M11 81h2M14 81h1M18 81h1M24 81h2M35 81h1M58 81h1M62 81h1M9 82h1M13 82h1M22 82h1M34 82h1M57 82h1M64 82h2M67 82h1M2 83h1M4 83h1M9 83h1M13 83h1M19 83h1M32 83h1M36 83h1M57 83h1M82 83h1M0 84h2M8 84h1M10 84h1M18 84h1M33 84h3M57 84h3M84 84h1M0 85h1M3 85h1M10 85h1M15 85h1M21 85h1M31 85h1M35 85h1M58 85h1M62 85h1M13 86h1M18 86h1M23 86h1M29 86h1M33 86h2M36 86h1M57 86h1M59 86h1M80 86h1M0 87h1M4 87h1M23 87h1M33 87h1M36 87h2M57 87h1M68 87h1M70 87h1M80 87h1M0 88h1M11 88h1M37 88h2M56 88h1M58 88h1M66 88h1M80 88h1M88 88h1" stroke="#bcbcbc" stroke-width="1" fill="none"/>
<path transform="translate(0,.5)" d="M66 8h2M63 9h1M63 10h1M65 10h1M67 10h1M62 11h1M64 11h4M60 12h1M62 12h3M66 12h2M60 13h4M66 13h1M58 14h7M58 15h3M63 15h2M56 16h1M59 16h1M56 17h2M59 17h4M54 18h4M60 18h3M53 19h6M61 19h1M52 20h2M55 20h3M54 21h6M50 22h3M54 22h2M57 22h2M50 23h1M52 23h1M55 23h1M57 23h2M48 24h10M52 25h3M46 26h3M50 26h1M53 26h2M48 27h2M53 27h2M45 28h9M43 29h1M45 29h1M47 29h4M53 29h1M42 30h4M47 30h6M41 31h3M45 31h2M48 31h1M41 32h1M44 32h3M48 32h2M51 32h1M42 33h3M46 33h2M49 33h2M40 34h2M43 34h5M49 34h1M42 35h5M40 36h1M42 36h7M41 37h1M43 37h2M47 37h1M40 38h5M47 38h1M43 39h2M46 39h1M43 40h4M44 41h1M45 42h1M44 43h1M47 43h2M45 44h1M49 44h1M46 45h1M48 45h2M42 46h1M44 46h1M47 46h1M51 46h1M43 47h2M48 47h1M51 47h2M41 48h1M45 48h3M50 48h1M39 49h4M44 49h1M46 49h1M49 49h3M39 50h1M42 50h1M44 50h3M49 50h5M38 51h12M51 51h2M54 51h1M40 52h3M44 52h1M49 52h3M53 52h3M38 53h3M42 53h2M49 53h2M52 53h2M38 54h5M51 54h1M53 54h3M36 55h1M40 55h2M52 55h5M38 56h3M52 56h1M54 56h1M36 57h5M53 57h3M36 58h4M53 58h1M55 58h1M57 58h1M36 59h1M38 59h2M53 59h2M56 59h2M35 60h5M54 60h3M38 61h1M54 61h3M34 62h1M36 62h2M54 62h4M8 63h1M10 63h1M36 63h1M38 63h1M54 63h4M7 64h1M10 64h1M13 64h2M34 64h1M36 64h1M55 64h2M58 64h1M6 65h2M9 65h1M14 65h1M38 65h1M54 65h5M6 66h2M9 66h2M12 66h1M15 66h1M35 66h1M37 66h1M55 66h4M5 67h1M7 67h4M13 67h2M36 67h2M55 67h4M5 68h1M9 68h1M11 68h2M15 68h2M35 68h3M56 68h2M8 69h1M11 69h1M14 69h2M36 69h2M55 69h2M6 70h3M12 70h1M14 70h3M55 70h3M5 71h1M9 71h1M15 71h1M35 71h1M37 71h1M55 71h2M58 71h1M5 72h1M9 72h1M13 72h1M16 72h1M36 72h3M55 72h4M6 73h1M8 73h3M12 73h2M38 73h1M54 73h2M7 74h1M11 74h3M15 74h1M36 74h2M54 74h4M7 75h7M34 75h5M54 75h3M9 76h3M36 76h3M54 76h3M39 77h1M54 77h1M57 77h1M36 78h1M38 78h1M53 78h5M37 79h3M54 79h1M56 79h2M37 80h1M40 80h1M53 80h4M36 81h1M38 81h1M40 81h1M53 81h3M36 82h1M39 82h3M54 82h1M56 82h1M37 83h5M53 83h1M37 84h3M41 84h2M51 84h2M54 84h2M37 85h1M39 85h3M43 85h1M49 85h1M51 85h3M55 85h1M39 86h1M41 86h4M47 86h6M54 86h2M42 87h1M44 87h1M46 87h3M50 87h1M54 87h1M39 88h1M41 88h1M43 88h1M46 88h2M49 88h2M52 88h2" stroke="#a0a0a0" stroke-width="1" fill="none"/>
<path transform="translate(0,.5)" d="M46 52h1M44 53h5M43 54h1M45 54h5M42 55h9M42 56h1M44 56h1M46 56h6M41 57h6M48 57h4M40 58h2M43 58h3M47 58h1M49 58h2M52 58h1M40 59h1M42 59h4M47 59h2M50 59h3M40 60h12M39 61h2M42 61h11M39 62h15M39 63h13M53 63h1M39 64h15M39 65h1M41 65h6M49 65h5M38 66h15M54 66h1M39 67h16M39 68h11M51 68h3M38 69h17M38 70h8M47 70h8M38 71h3M42 71h12M39 72h3M43 72h8M52 72h3M39 73h15M39 74h9M50 74h4M40 75h14M40 76h8M49 76h5M40 77h3M44 77h10M40 78h13M40 79h13M41 80h9M51 80h2M41 81h1M43 81h9M42 82h9M42 83h9M44 84h3M49 84h1M44 85h4" stroke="#8e8e8e" stroke-width="1" fill="none"/>
</g>
<g transform="translate(179.4,568.7)">
<rect x="0" y="0" width="88.7" height="88.5" fill="none" stroke="#555" stroke-width="1"/>
<path d="M29.9 0V88.5M0 51H88.7" stroke="#666" stroke-width="1"/>
<path d="M12 88.5v4M18.62 88.5v2.5M22.5 88.5v2.5M0.5 88.5v2.5M25.25 88.5v2.5M3.25 88.5v2.5M27.38 88.5v2.5M5.38 88.5v2.5M29.12 88.5v2.5M7.12 88.5v2.5M30.59 88.5v2.5M8.59 88.5v2.5M31.87 88.5v2.5M9.87 88.5v2.5M32.99 88.5v2.5M10.99 88.5v2.5M34 88.5v4M40.62 88.5v2.5M44.5 88.5v2.5M47.25 88.5v2.5M49.38 88.5v2.5M51.12 88.5v2.5M52.59 88.5v2.5M53.87 88.5v2.5M54.99 88.5v2.5M56 88.5v4M62.62 88.5v2.5M66.5 88.5v2.5M69.25 88.5v2.5M71.38 88.5v2.5M73.12 88.5v2.5M74.59 88.5v2.5M75.87 88.5v2.5M76.99 88.5v2.5M78 88.5v4M84.62 88.5v2.5M88.5 88.5v2.5M0 76h-4M0 69.38h-2.5M0 65.5h-2.5M0 87.5h-2.5M0 62.75h-2.5M0 84.75h-2.5M0 60.62h-2.5M0 82.62h-2.5M0 58.88h-2.5M0 80.88h-2.5M0 57.41h-2.5M0 79.41h-2.5M0 56.13h-2.5M0 78.13h-2.5M0 55.01h-2.5M0 77.01h-2.5M0 54h-4M0 47.38h-2.5M0 43.5h-2.5M0 40.75h-2.5M0 38.62h-2.5M0 36.88h-2.5M0 35.41h-2.5M0 34.13h-2.5M0 33.01h-2.5M0 32h-4M0 25.38h-2.5M0 21.5h-2.5M0 18.75h-2.5M0 16.62h-2.5M0 14.88h-2.5M0 13.41h-2.5M0 12.13h-2.5M0 11.01h-2.5M0 10h-4M0 3.38h-2.5" stroke="#555" stroke-width=".7"/>
<text x="8.5" y="99.5" font-size="6.2">10<tspan dy="-2.8" font-size="4.6">2</tspan></text>
<text x="30.5" y="99.5" font-size="6.2">10<tspan dy="-2.8" font-size="4.6">3</tspan></text>
<text x="52.5" y="99.5" font-size="6.2">10<tspan dy="-2.8" font-size="4.6">4</tspan></text>
<text x="74.5" y="99.5" font-size="6.2">10<tspan dy="-2.8" font-size="4.6">5</tspan></text>
<text transform="translate(-4.8,80) rotate(-90)" font-size="6.2">10<tspan dy="-2.8" font-size="4.6">2</tspan></text>
<text transform="translate(-4.8,58) rotate(-90)" font-size="6.2">10<tspan dy="-2.8" font-size="4.6">3</tspan></text>
<text transform="translate(-4.8,36) rotate(-90)" font-size="6.2">10<tspan dy="-2.8" font-size="4.6">4</tspan></text>
<text transform="translate(-4.8,14) rotate(-90)" font-size="6.2">10<tspan dy="-2.8" font-size="4.6">5</tspan></text>
</g>
<text x="185.1" y="612.2" font-size="9.3">0.8%</text>
<text x="245.7" y="612.2" font-size="9.3">5.4%</text>
<text x="181.7" y="641" font-size="9.3">15.2%</text>
<text x="239.7" y="641" font-size="9.3">78.6%</text>
<g transform="translate(313,569)" filter="url(#bl)">
<path transform="translate(0,.5)" d="M22 0h1M31 0h1M33 0h1M38 0h1M47 0h1M59 0h2M70 0h1M36 1h1M41 1h2M46 1h1M73 1h1M31 2h2M36 2h1M45 2h2M48 2h1M73 2h1M86 2h1M47 3h4M59 3h1M74 3h1M32 4h1M35 4h1M50 4h1M72 4h1M76 4h1M31 5h1M33 5h1M46 5h1M60 5h1M72 5h2M34 6h1M50 6h2M61 6h1M9 7h1M19 7h1M47 7h1M66 7h1M33 8h1M51 8h1M48 9h1M50 9h1M29 10h1M50 10h1M53 10h3M58 10h1M64 10h2M25 11h1M50 11h1M59 11h1M63 11h1M67 11h1M11 12h1M29 12h1M32 12h1M49 12h1M55 12h1M32 13h1M49 13h2M0 14h1M7 14h1M20 14h1M24 14h1M33 14h1M51 14h1M53 14h1M57 14h1M63 14h1M50 15h1M61 15h1M85 15h1M32 16h2M50 16h2M55 16h1M73 16h1M32 17h4M50 17h1M53 17h1M59 17h1M65 17h1M68 17h1M31 18h1M35 18h1M65 18h2M7 19h1M9 19h1M19 19h1M35 19h1M52 19h1M57 19h1M63 19h1M51 20h2M68 20h2M21 21h1M36 21h1M81 21h1M19 22h1M33 22h3M52 22h1M59 22h1M65 22h2M78 22h1M2 23h1M5 23h1M9 23h2M17 23h1M21 23h1M34 23h1M52 23h1M59 23h1M2 24h1M32 24h1M37 24h1M52 24h1M56 24h1M68 24h1M16 25h1M25 25h1M32 25h1M34 25h1M37 25h1M52 25h1M60 25h1M64 25h1M67 25h1M75 25h1M1 26h2M8 26h1M12 26h1M52 26h1M54 26h1M58 26h1M2 27h3M6 27h1M10 27h1M18 27h2M33 27h1M52 27h1M58 27h1M60 27h2M1 28h1M7 28h1M9 28h1M11 28h1M15 28h1M25 28h1M35 28h2M56 28h1M72 28h1M1 29h4M9 29h1M15 29h1M18 29h2M32 29h1M34 29h1M36 29h1M52 29h2M64 29h1M72 29h1M2 30h1M5 30h2M9 30h1M11 30h2M18 30h1M20 30h1M24 30h1M55 30h1M66 30h1M1 31h1M4 31h1M9 31h3M13 31h1M15 31h1M29 31h1M33 31h1M52 31h1M54 31h1M73 31h1M4 32h1M7 32h3M12 32h1M55 32h1M64 32h1M74 32h1M0 33h1M2 33h1M5 33h1M8 33h1M10 33h1M12 33h2M15 33h1M25 33h1M32 33h1M52 33h2M1 34h1M4 34h1M7 34h1M11 34h1M19 34h1M32 34h1M34 34h3M52 34h1M54 34h1M61 34h1M0 35h1M4 35h1M11 35h1M13 35h3M19 35h1M32 35h1M52 35h1M58 35h1M64 35h1M2 36h1M6 36h1M11 36h2M17 36h1M23 36h1M53 36h1M4 37h1M6 37h1M16 37h1M19 37h1M56 37h1M60 37h2M64 37h1M72 37h1M1 38h2M4 38h1M6 38h1M11 38h3M15 38h1M20 38h1M36 38h1M62 38h1M0 39h1M3 39h1M7 39h1M10 39h1M24 39h1M31 39h2M57 39h1M67 39h1M69 39h1M73 39h1M1 40h1M10 40h3M14 40h2M20 40h1M32 40h1M35 40h1M55 40h1M64 40h1M5 41h1M9 41h1M11 41h1M14 41h1M16 41h2M24 41h1M28 41h1M53 41h3M62 41h1M64 41h1M66 41h1M8 42h1M10 42h1M12 42h2M16 42h1M30 42h1M34 42h2M54 42h1M3 43h2M7 43h1M9 43h1M17 43h1M32 43h1M35 43h2M71 43h1M0 44h1M6 44h1M12 44h1M22 44h2M31 44h1M36 44h1M56 44h1M58 44h1M84 44h1M6 45h1M8 45h1M11 45h1M15 45h1M19 45h1M23 45h1M57 45h1M5 46h1M8 46h1M10 46h2M14 46h1M33 46h1M35 46h1M53 46h4M73 46h1M7 47h2M14 47h1M36 47h1M54 47h2M57 47h1M74 47h1M6 48h1M10 48h1M31 48h2M34 48h1M53 48h1M0 49h2M3 49h1M6 49h1M13 49h1M17 49h1M20 49h1M31 49h1M34 49h1M36 49h1M53 49h1M66 49h1M68 49h1M8 50h1M10 50h1M34 50h1M54 50h1M8 51h3M21 51h2M33 51h1M35 51h2M55 51h1M59 51h1M72 51h1M0 52h1M4 52h1M8 52h2M32 52h1M34 52h1M36 52h1M57 52h1M64 52h1M67 52h1M3 53h1M8 53h1M23 53h1M30 53h1M35 53h1M53 53h1M56 53h1M68 53h1M1 54h1M3 54h1M11 54h5M17 54h2M33 54h1M35 54h1M59 54h1M3 55h1M5 55h1M7 55h2M15 55h1M20 55h1M30 55h1M33 55h1M54 55h1M71 55h1M87 55h1M4 56h1M8 56h1M11 56h1M15 56h1M19 56h2M24 56h2M31 56h1M33 56h1M35 56h1M4 57h2M10 57h2M13 57h2M16 57h1M22 57h1M35 57h1M54 57h1M61 57h1M68 57h1M4 58h1M11 58h1M23 58h1M32 58h1M34 58h1M36 58h1M54 58h1M63 58h1M6 59h1M12 59h1M15 59h2M19 59h1M26 59h1M35 59h1M54 59h1M56 59h1M58 59h1M70 59h2M1 60h1M4 60h1M6 60h2M12 60h2M15 60h2M32 60h1M35 60h2M55 60h1M59 60h1M66 60h1M0 61h1M4 61h1M7 61h1M24 61h1M34 61h1M61 61h1M68 61h1M80 61h1M5 62h1M8 62h1M11 62h1M16 62h1M34 62h3M54 62h1M57 62h1M59 62h1M61 62h1M63 62h1M82 62h1M7 63h1M9 63h1M11 63h1M13 63h2M32 63h1M76 63h1M0 64h1M11 64h1M15 64h1M18 64h3M24 64h1M27 64h1M31 64h1M35 64h1M55 64h1M57 64h1M63 64h2M74 64h1M1 65h1M4 65h4M13 65h4M18 65h1M27 65h1M29 65h1M34 65h1M55 65h1M57 65h1M60 65h1M64 65h1M73 65h1M5 66h1M9 66h1M11 66h1M13 66h2M17 66h1M20 66h2M35 66h2M56 66h1M60 66h1M71 66h1M74 66h1M2 67h1M7 67h1M10 67h2M13 67h1M15 67h1M20 67h1M31 67h3M54 67h2M61 67h1M66 67h1M79 67h1M1 68h4M6 68h1M8 68h1M12 68h1M14 68h2M17 68h5M24 68h1M29 68h1M36 68h1M54 68h1M56 68h1M79 68h1M0 69h2M6 69h1M8 69h1M10 69h4M19 69h1M24 69h2M29 69h1M34 69h1M55 69h1M58 69h1M80 69h1M4 70h1M7 70h3M13 70h1M19 70h2M26 70h2M31 70h1M34 70h2M54 70h1M60 70h2M68 70h1M9 71h1M11 71h2M14 71h1M16 71h1M18 71h2M23 71h1M32 71h1M36 71h1M54 71h1M57 71h4M68 71h1M86 71h1M1 72h1M10 72h1M13 72h1M15 72h1M24 72h1M36 72h1M57 72h1M69 72h1M0 73h1M3 73h2M6 73h2M14 73h1M16 73h1M31 73h1M56 73h1M60 73h1M62 73h2M70 73h1M2 74h1M5 74h1M7 74h1M9 74h3M13 74h1M21 74h1M32 74h1M34 74h2M54 74h1M56 74h1M58 74h1M70 74h1M1 75h2M5 75h1M7 75h3M12 75h1M30 75h1M34 75h1M36 75h1M54 75h1M58 75h1M4 76h3M8 76h2M12 76h1M22 76h1M28 76h1M32 76h1M54 76h1M60 76h1M66 76h1M78 76h1M80 76h1M85 76h1M3 77h1M10 77h1M12 77h2M16 77h2M21 77h2M35 77h1M56 77h1M66 77h1M1 78h1M6 78h4M11 78h2M20 78h1M25 78h1M29 78h1M36 78h1M55 78h5M72 78h1M4 79h1M7 79h1M9 79h1M12 79h1M25 79h1M28 79h1M32 79h1M36 79h1M55 79h1M57 79h1M6 80h3M15 80h1M27 80h1M34 80h1M36 80h1M3 81h1M11 81h1M20 81h1M34 81h1M54 81h1M56 81h1M63 81h1M4 82h2M9 82h1M11 82h1M13 82h1M15 82h1M31 82h1M33 82h1M55 82h2M4 83h1M12 83h1M16 83h1M36 83h1M55 83h1M60 83h1M74 83h1M0 84h1M18 84h1M20 84h1M30 84h1M34 84h1M36 84h1M54 84h2M5 85h1M11 85h1M17 85h1M22 85h1M29 85h1M36 85h1M54 85h3M61 85h1M66 85h1M6 86h1M31 86h1M36 86h1M55 86h1M57 86h1M8 87h1M18 87h1M37 87h1M54 87h1M57 87h1M62 87h1M84 87h1M6 88h1M32 88h1M53 88h1M58 88h1M85 88h1" stroke="#bcbcbc" stroke-width="1" fill="none"/>
<path transform="translate(0,.5)" d="M42 2h2M36 3h3M42 3h3M36 4h2M44 4h2M35 5h2M35 6h1M46 6h1M34 7h2M46 7h1M46 8h2M34 9h1M46 9h2M34 10h1M46 10h2M34 11h1M46 11h2M47 12h1M34 13h2M46 13h1M35 14h1M46 15h1M48 15h1M35 16h1M46 16h1M48 16h1M37 17h1M46 17h1M37 18h3M46 18h3M50 18h1M38 19h3M47 19h1M50 19h1M41 20h1M48 20h1M50 20h1M40 21h2M47 21h4M40 22h1M48 22h1M50 22h1M39 23h2M48 23h1M51 23h1M38 24h3M49 24h1M51 24h1M39 25h2M48 25h1M50 25h1M40 26h1M48 26h3M40 27h1M49 27h1M51 27h1M38 28h3M49 28h2M37 29h4M49 29h1M51 29h1M50 30h1M37 31h1M39 31h1M49 31h3M38 32h1M49 32h3M37 33h2M49 33h1M51 33h1M37 34h3M51 34h1M8 35h1M38 35h2M49 35h1M51 35h1M37 36h3M49 36h1M7 37h2M37 37h3M49 37h2M8 38h3M37 38h1M39 38h2M50 38h1M52 38h1M37 39h1M39 39h2M50 39h3M38 40h2M49 40h1M38 41h3M49 41h1M52 41h1M38 42h1M40 42h1M49 42h1M51 42h1M37 43h1M39 43h1M49 43h3M39 44h2M49 44h2M52 44h1M37 45h4M49 45h2M39 46h2M38 47h1M40 47h1M49 47h1M51 47h2M37 48h1M39 48h2M50 48h1M52 48h1M37 49h1M39 49h3M52 49h1M37 50h5M49 50h3M40 51h2M49 51h2M49 52h1M37 53h5M49 53h4M39 54h3M49 54h3M37 55h1M39 55h2M49 55h1M52 55h2M38 56h1M40 56h1M49 56h1M51 56h2M49 57h3M53 57h1M37 58h4M50 58h3M40 59h1M50 59h3M37 60h4M51 60h1M38 61h3M50 61h1M52 61h2M39 62h2M50 62h3M37 63h3M51 63h1M38 64h1M51 64h3M38 65h1M40 65h1M50 65h1M37 66h1M39 66h2M50 66h3M37 67h4M50 67h2M53 67h1M39 68h2M50 68h3M38 69h3M50 69h1M52 69h1M37 70h3M50 70h3M38 71h3M50 71h3M37 72h3M50 72h3M37 73h4M50 73h4M39 74h1M50 74h4M38 75h1M40 75h1M50 75h3M39 76h2M50 76h1M37 77h4M50 77h4M37 78h3M50 78h2M53 78h1M37 79h3M50 79h1M38 80h3M53 80h1M37 81h2M40 81h1M50 81h1M52 81h2M37 82h1M39 82h1M50 82h2M53 82h1M39 83h2M50 83h3M38 84h4M50 84h2M38 85h4M49 85h4M39 86h3M49 86h3M53 86h1M38 87h2M41 87h1M49 87h2M42 88h1M48 88h1M51 88h2" stroke="#a0a0a0" stroke-width="1" fill="none"/>
<path transform="translate(0,.5)" d="M39 3h3M39 4h5M37 5h6M44 5h1M36 6h9M36 7h10M35 8h11M36 9h10M35 10h11M35 11h11M35 12h10M36 13h10M36 14h10M37 15h3M41 15h5M37 16h9M39 17h7M40 18h5M41 19h3M45 19h1M42 20h3M46 20h1M42 21h5M41 22h7M41 23h7M41 24h4M46 24h2M41 25h6M41 26h7M41 27h5M47 27h1M41 28h5M47 28h2M41 29h8M40 30h6M47 30h2M40 31h9M40 32h5M46 32h2M41 33h8M40 34h9M42 35h7M40 36h9M41 37h8M41 38h8M41 39h8M42 40h6M41 41h5M47 41h1M41 42h2M44 42h5M41 43h8M41 44h5M47 44h2M41 45h1M43 45h6M41 46h8M41 47h8M41 48h8M42 49h7M42 50h7M42 51h7M42 52h7M42 53h2M45 53h3M42 54h6M41 55h1M43 55h1M45 55h4M41 56h1M43 56h4M48 56h1M41 57h4M46 57h3M41 58h1M43 58h2M46 58h3M41 59h3M45 59h4M41 60h1M43 60h7M41 61h7M49 61h1M41 62h9M41 63h5M48 63h2M41 64h2M44 64h5M41 65h4M46 65h4M41 66h9M41 67h9M41 68h8M41 69h2M44 69h6M41 70h9M41 71h9M41 72h1M43 72h5M49 72h1M42 73h2M46 73h4M41 74h9M41 75h8M41 76h8M41 77h8M41 78h1M43 78h7M41 79h9M41 80h8M43 81h5M49 81h1M41 82h5M47 82h3M42 83h1M44 83h6M42 84h4M47 84h3M42 85h7M43 86h5M43 87h1M45 87h3M44 88h4" stroke="#8e8e8e" stroke-width="1" fill="none"/>
</g>
<g transform="translate(313.1,569)">
<rect x="0" y="0" width="88.7" height="88.5" fill="none" stroke="#555" stroke-width="1"/>
<path d="M30.1 0V88.5M0 51.5H88.7" stroke="#666" stroke-width="1"/>
<path d="M12 88.5v4M18.62 88.5v2.5M22.5 88.5v2.5M0.5 88.5v2.5M25.25 88.5v2.5M3.25 88.5v2.5M27.38 88.5v2.5M5.38 88.5v2.5M29.12 88.5v2.5M7.12 88.5v2.5M30.59 88.5v2.5M8.59 88.5v2.5M31.87 88.5v2.5M9.87 88.5v2.5M32.99 88.5v2.5M10.99 88.5v2.5M34 88.5v4M40.62 88.5v2.5M44.5 88.5v2.5M47.25 88.5v2.5M49.38 88.5v2.5M51.12 88.5v2.5M52.59 88.5v2.5M53.87 88.5v2.5M54.99 88.5v2.5M56 88.5v4M62.62 88.5v2.5M66.5 88.5v2.5M69.25 88.5v2.5M71.38 88.5v2.5M73.12 88.5v2.5M74.59 88.5v2.5M75.87 88.5v2.5M76.99 88.5v2.5M78 88.5v4M84.62 88.5v2.5M88.5 88.5v2.5M0 76h-4M0 69.38h-2.5M0 65.5h-2.5M0 87.5h-2.5M0 62.75h-2.5M0 84.75h-2.5M0 60.62h-2.5M0 82.62h-2.5M0 58.88h-2.5M0 80.88h-2.5M0 57.41h-2.5M0 79.41h-2.5M0 56.13h-2.5M0 78.13h-2.5M0 55.01h-2.5M0 77.01h-2.5M0 54h-4M0 47.38h-2.5M0 43.5h-2.5M0 40.75h-2.5M0 38.62h-2.5M0 36.88h-2.5M0 35.41h-2.5M0 34.13h-2.5M0 33.01h-2.5M0 32h-4M0 25.38h-2.5M0 21.5h-2.5M0 18.75h-2.5M0 16.62h-2.5M0 14.88h-2.5M0 13.41h-2.5M0 12.13h-2.5M0 11.01h-2.5M0 10h-4M0 3.38h-2.5" stroke="#555" stroke-width=".7"/>
<text x="8.5" y="99.5" font-size="6.2">10<tspan dy="-2.8" font-size="4.6">2</tspan></text>
<text x="30.5" y="99.5" font-size="6.2">10<tspan dy="-2.8" font-size="4.6">3</tspan></text>
<text x="52.5" y="99.5" font-size="6.2">10<tspan dy="-2.8" font-size="4.6">4</tspan></text>
<text x="74.5" y="99.5" font-size="6.2">10<tspan dy="-2.8" font-size="4.6">5</tspan></text>
<text transform="translate(-4.8,80) rotate(-90)" font-size="6.2">10<tspan dy="-2.8" font-size="4.6">2</tspan></text>
<text transform="translate(-4.8,58) rotate(-90)" font-size="6.2">10<tspan dy="-2.8" font-size="4.6">3</tspan></text>
<text transform="translate(-4.8,36) rotate(-90)" font-size="6.2">10<tspan dy="-2.8" font-size="4.6">4</tspan></text>
<text transform="translate(-4.8,14) rotate(-90)" font-size="6.2">10<tspan dy="-2.8" font-size="4.6">5</tspan></text>
</g>
<text x="319.5" y="586.5" font-size="9.3">3.1%</text>
<text x="374.2" y="586.5" font-size="9.3">22.9%</text>
<text x="319.5" y="644.8" font-size="9.3">9.1%</text>
<text x="374.2" y="644.8" font-size="9.3">64.9%</text>
<g transform="translate(429,569)" filter="url(#bl)">
<path transform="translate(0,.5)" d="M5 0h1M24 0h1M27 0h1M65 0h1M67 0h1M26 1h1M54 1h1M59 1h1M65 1h1M78 1h1M8 2h1M22 2h1M57 2h2M27 3h1M32 3h2M57 3h1M82 3h1M29 4h1M74 4h1M29 5h2M32 5h1M57 5h1M63 5h1M31 6h1M54 6h1M56 6h1M58 6h3M24 7h1M54 7h1M71 7h3M81 7h1M29 8h1M63 8h1M31 9h1M54 9h1M59 9h1M27 10h1M30 10h1M55 10h1M61 10h1M71 10h1M1 11h1M15 11h1M26 11h1M53 11h1M26 12h1M56 12h1M65 12h1M71 12h1M11 13h1M24 13h1M30 13h1M53 13h1M62 13h1M28 14h1M30 14h1M29 15h2M53 15h2M59 15h1M72 15h1M30 16h1M53 16h1M71 16h1M14 17h1M52 17h2M58 17h1M69 17h1M26 18h1M31 18h1M52 18h1M75 18h1M11 19h1M13 19h1M15 19h1M29 19h3M74 19h1M87 19h1M27 20h1M31 20h1M52 20h2M58 20h1M63 20h1M74 20h1M2 21h1M11 21h1M30 21h1M52 21h1M66 21h1M69 21h1M1 22h1M10 22h1M12 22h1M14 22h1M31 22h2M52 22h1M54 22h1M60 22h1M20 23h1M25 23h1M32 23h1M67 23h1M73 23h1M3 24h1M6 24h1M52 24h2M66 24h1M80 24h1M87 24h1M11 25h1M18 25h1M20 25h1M31 25h1M55 25h1M67 25h1M1 26h2M6 26h1M9 26h1M12 26h1M30 26h1M53 26h2M7 27h1M9 27h3M34 27h1M52 27h1M80 27h1M1 28h1M3 28h1M5 28h2M9 28h1M11 28h1M13 28h1M15 28h5M34 28h1M37 28h1M62 28h1M69 28h1M0 29h1M2 29h1M4 29h2M7 29h1M10 29h1M17 29h1M34 29h2M52 29h1M54 29h1M63 29h1M81 29h1M4 30h2M11 30h1M15 30h1M19 30h1M31 30h1M35 30h1M38 30h1M51 30h1M54 30h1M61 30h1M68 30h1M70 30h1M72 30h1M2 31h2M17 31h1M19 31h1M32 31h1M34 31h5M53 31h2M69 31h2M2 32h2M14 32h1M39 32h1M51 32h3M61 32h1M72 32h1M81 32h1M1 33h1M14 33h1M18 33h1M34 33h1M37 33h2M52 33h1M54 33h1M63 33h1M0 34h1M15 34h1M18 34h1M26 34h1M33 34h1M39 34h1M53 34h1M55 34h1M57 34h1M68 34h1M86 34h1M0 35h1M15 35h1M18 35h1M21 35h1M38 35h1M54 35h1M57 35h1M59 35h1M61 35h1M1 36h1M14 36h2M35 36h1M39 36h1M51 36h1M54 36h1M72 36h2M0 37h1M15 37h1M17 37h2M23 37h1M32 37h1M52 37h1M67 37h1M0 38h1M16 38h3M53 38h1M55 38h1M58 38h1M1 39h1M15 39h2M20 39h1M22 39h1M39 39h1M52 39h1M57 39h1M63 39h1M70 39h1M77 39h1M86 39h1M1 40h1M16 40h1M19 40h1M22 40h1M37 40h1M52 40h2M63 40h1M15 41h1M19 41h1M32 41h1M37 41h2M73 41h1M2 42h1M14 42h1M17 42h1M38 42h1M52 42h2M59 42h1M70 42h1M73 42h1M77 42h2M1 43h2M13 43h1M17 43h1M39 43h1M54 43h1M69 43h1M3 44h1M12 44h1M15 44h1M31 44h1M37 44h1M57 44h1M65 44h1M68 44h1M2 45h1M5 45h1M15 45h2M20 45h1M22 45h1M30 45h1M35 45h1M38 45h1M53 45h1M55 45h2M2 46h1M5 46h2M9 46h1M11 46h1M13 46h1M16 46h2M23 46h1M38 46h2M70 46h1M1 47h3M8 47h1M11 47h2M14 47h1M39 47h1M55 47h1M73 47h1M80 47h1M82 47h1M1 48h1M4 48h1M7 48h4M15 48h1M38 48h1M54 48h1M64 48h1M72 48h1M79 48h1M87 48h1M5 49h2M9 49h4M30 49h1M38 49h2M54 49h1M62 49h1M2 50h2M6 50h1M13 50h1M31 50h1M38 50h2M53 50h1M55 50h2M58 50h3M71 50h1M5 51h2M11 51h1M13 51h2M55 51h1M57 51h2M0 52h1M17 52h1M19 52h1M35 52h1M39 52h1M55 52h1M68 52h1M5 53h1M9 53h1M12 53h2M25 53h1M27 53h1M33 53h2M37 53h1M55 53h3M59 53h1M61 53h1M4 54h1M8 54h1M14 54h1M16 54h1M27 54h2M35 54h1M38 54h1M57 54h1M66 54h1M3 55h1M11 55h2M18 55h1M22 55h1M35 55h1M37 55h2M56 55h1M60 55h1M62 55h2M3 56h1M8 56h1M17 56h1M25 56h1M36 56h1M57 56h1M60 56h2M0 57h2M3 57h1M9 57h1M12 57h1M15 57h1M17 57h1M25 57h2M36 57h1M55 57h1M4 58h2M9 58h1M13 58h1M17 58h1M23 58h1M26 58h1M30 58h1M32 58h1M36 58h1M39 58h1M67 58h1M69 58h1M13 59h1M18 59h1M34 59h2M56 59h1M61 59h1M65 59h1M70 59h1M78 59h1M3 60h1M5 60h1M11 60h2M19 60h1M33 60h1M35 60h2M3 61h1M7 61h1M11 61h2M17 61h1M25 61h1M35 61h1M38 61h1M56 61h1M60 61h1M62 61h1M71 61h1M0 62h1M5 62h2M9 62h2M14 62h1M18 62h1M20 62h1M24 62h2M56 62h1M58 62h1M63 62h1M1 63h3M12 63h5M30 63h1M35 63h1M37 63h2M56 63h1M63 63h1M66 63h1M2 64h1M4 64h1M8 64h1M11 64h3M17 64h2M38 64h1M56 64h1M61 64h2M70 64h1M88 64h1M3 65h1M8 65h3M13 65h2M16 65h3M24 65h1M31 65h1M33 65h1M35 65h1M38 65h1M56 65h2M77 65h1M88 65h1M0 66h1M4 66h3M14 66h2M21 66h1M38 66h1M0 67h2M4 67h3M9 67h1M11 67h1M14 67h1M16 67h1M20 67h2M24 67h1M34 67h2M38 67h1M65 67h1M1 68h1M7 68h2M10 68h1M12 68h1M14 68h2M33 68h1M36 68h1M38 68h1M58 68h3M70 68h1M88 68h1M2 69h1M5 69h1M8 69h1M12 69h1M14 69h1M17 69h4M22 69h1M25 69h1M34 69h1M37 69h2M57 69h1M59 69h1M67 69h1M6 70h2M13 70h1M15 70h3M20 70h1M25 70h1M30 70h2M33 70h1M37 70h1M59 70h1M1 71h1M3 71h2M7 71h1M14 71h1M17 71h2M20 71h6M27 71h1M30 71h1M36 71h2M56 71h1M61 71h1M64 71h2M69 71h1M1 72h2M5 72h2M13 72h1M18 72h2M22 72h3M34 72h1M0 73h1M3 73h1M5 73h1M8 73h1M13 73h2M17 73h2M24 73h1M27 73h3M34 73h1M36 73h1M38 73h1M57 73h2M63 73h1M71 73h1M81 73h1M0 74h1M3 74h4M8 74h1M13 74h2M17 74h1M22 74h2M26 74h1M29 74h1M32 74h2M38 74h1M56 74h1M67 74h1M83 74h1M0 75h1M5 75h1M7 75h1M9 75h2M14 75h1M16 75h2M20 75h1M23 75h3M36 75h1M38 75h1M58 75h1M61 75h1M68 75h1M74 75h2M81 75h1M6 76h1M8 76h1M12 76h1M14 76h1M16 76h2M23 76h2M37 76h1M58 76h1M60 76h2M64 76h1M76 76h1M4 77h1M9 77h1M13 77h1M19 77h1M21 77h1M37 77h1M57 77h1M61 77h1M68 77h1M0 78h1M3 78h2M12 78h2M22 78h1M37 78h2M56 78h1M59 78h1M61 78h1M63 78h1M80 78h1M0 79h1M4 79h2M7 79h2M12 79h1M16 79h2M19 79h1M29 79h2M59 79h2M63 79h1M2 80h1M6 80h1M9 80h1M13 80h3M17 80h3M23 80h1M30 80h1M36 80h1M38 80h1M57 80h3M63 80h1M73 80h1M2 81h1M12 81h2M21 81h1M28 81h2M34 81h1M38 81h1M56 81h2M59 81h1M72 81h1M74 81h1M77 81h1M88 81h1M7 82h1M9 82h1M12 82h2M17 82h1M25 82h1M30 82h1M38 82h1M57 82h1M5 83h1M9 83h4M30 83h1M37 83h1M39 83h1M57 83h3M66 83h1M0 84h1M2 84h1M11 84h2M17 84h1M21 84h1M33 84h1M56 84h1M79 84h1M1 85h1M4 85h1M9 85h2M12 85h2M26 85h1M36 85h1M39 85h1M73 85h1M4 86h1M9 86h2M14 86h1M31 86h1M35 86h1M38 86h2M57 86h2M66 86h1M84 86h1M1 87h1M8 87h1M14 87h1M36 87h3M56 87h1M64 87h1M2 88h1M10 88h1M19 88h1M26 88h1M31 88h2M36 88h1M38 88h1M40 88h1M55 88h1M61 88h1M66 88h1M69 88h1" stroke="#bcbcbc" stroke-width="1" fill="none"/>
<path transform="translate(0,.5)" d="M38 0h1M49 0h3M35 1h3M50 1h1M35 2h1M51 2h1M53 2h1M34 3h2M52 3h2M52 4h1M34 5h1M52 5h3M52 6h2M32 7h2M52 7h1M32 8h2M52 9h2M32 10h1M51 10h1M31 11h2M51 11h1M32 12h1M51 12h1M51 13h1M32 14h1M51 14h2M31 15h1M51 15h1M32 16h1M51 16h2M32 17h2M50 17h2M50 18h2M32 19h2M50 19h1M34 20h1M50 20h2M33 21h2M49 21h3M34 22h2M50 22h1M35 23h2M48 23h3M35 24h3M48 24h3M47 25h1M50 25h1M38 26h2M46 26h3M37 27h1M40 27h1M42 27h2M45 27h4M38 28h2M41 28h7M49 28h2M40 29h1M44 29h2M47 29h2M50 29h1M39 30h3M45 30h2M48 30h3M5 31h1M7 31h1M43 31h1M45 31h6M4 32h1M6 32h1M9 32h3M40 32h2M43 32h4M48 32h3M3 33h2M6 33h2M9 33h2M12 33h1M40 33h1M43 33h1M45 33h1M47 33h1M49 33h2M2 34h2M6 34h3M12 34h1M41 34h9M2 35h1M4 35h2M8 35h2M11 35h3M41 35h3M46 35h2M49 35h1M3 36h1M7 36h1M9 36h2M12 36h1M40 36h2M43 36h1M45 36h3M50 36h1M1 37h2M6 37h1M8 37h2M11 37h1M13 37h2M40 37h2M44 37h3M49 37h1M2 38h3M7 38h2M13 38h2M40 38h1M43 38h3M49 38h1M3 39h1M5 39h2M9 39h5M42 39h1M44 39h1M46 39h1M49 39h3M3 40h3M7 40h1M9 40h2M12 40h1M41 40h6M48 40h1M3 41h1M8 41h2M11 41h2M42 41h1M44 41h1M46 41h2M50 41h1M5 42h4M10 42h1M12 42h1M40 42h2M44 42h1M46 42h2M50 42h1M3 43h1M5 43h3M11 43h1M40 43h3M45 43h5M4 44h2M8 44h1M10 44h2M42 44h4M48 44h3M41 45h5M48 45h1M51 45h1M40 46h1M42 46h1M44 46h2M47 46h4M52 46h1M40 47h11M52 47h1M41 48h2M44 48h8M43 49h3M47 49h5M40 50h2M43 50h2M46 50h1M48 50h1M41 51h10M52 51h1M41 52h1M43 52h2M48 52h2M52 52h2M41 53h2M44 53h4M50 53h1M52 53h2M40 54h1M42 54h4M47 54h1M49 54h4M41 55h1M43 55h1M45 55h1M47 55h2M50 55h3M42 56h4M48 56h1M51 56h1M41 57h3M50 57h1M52 57h2M40 58h5M49 58h5M40 59h4M50 59h4M40 60h1M42 60h2M50 60h2M53 60h2M39 61h1M41 61h3M51 61h1M53 61h1M51 62h3M42 63h2M51 63h1M39 64h3M51 64h1M53 64h2M40 65h4M51 65h1M54 65h2M41 66h1M52 66h1M54 66h1M39 67h1M42 67h1M52 67h1M54 67h1M42 68h1M52 68h2M55 68h1M10 69h2M39 69h1M42 69h1M52 69h3M9 70h1M11 70h1M39 70h4M52 70h2M55 70h1M9 71h1M11 71h2M40 71h3M52 71h4M39 72h2M42 72h1M52 72h2M55 72h1M9 73h2M39 73h3M52 73h1M54 73h1M10 74h2M40 74h3M52 74h1M40 75h3M53 75h4M40 76h1M42 76h1M52 76h4M40 77h2M52 77h4M39 78h1M42 78h1M52 78h2M40 79h3M52 79h1M54 79h2M40 80h2M52 80h2M55 80h1M39 81h2M42 81h2M53 81h3M39 82h2M43 82h1M52 82h3M40 83h4M52 83h1M54 83h2M42 84h2M52 84h1M54 84h2M43 85h2M51 85h1M53 85h3M42 86h3M52 86h2M40 87h2M43 87h2M50 87h1M52 87h2M41 88h5M47 88h7" stroke="#a0a0a0" stroke-width="1" fill="none"/>
<path transform="translate(0,.5)" d="M39 0h6M46 0h3M38 1h11M37 2h1M39 2h12M36 3h16M35 4h17M35 5h15M51 5h1M34 6h18M34 7h16M51 7h1M34 8h18M34 9h16M33 10h18M33 11h18M33 12h18M33 13h18M33 14h18M33 15h18M33 16h18M34 17h16M34 18h1M36 18h14M34 19h16M35 20h15M36 21h1M38 21h11M36 22h13M39 23h8M38 24h10M39 25h6M46 25h1M40 26h1M42 26h1M44 26h2M46 56h1M45 57h4M45 58h4M45 59h3M49 59h1M44 60h6M44 61h2M47 61h1M49 61h1M44 62h7M44 63h7M44 64h3M48 64h3M45 65h6M43 66h8M43 67h5M49 67h1M51 67h1M43 68h7M51 68h1M43 69h9M43 70h9M43 71h9M43 72h7M51 72h1M43 73h9M44 74h8M44 75h5M50 75h1M44 76h8M43 77h4M48 77h4M44 78h7M43 79h9M43 80h9M44 81h1M46 81h6M44 82h2M47 82h3M51 82h1M44 83h2M47 83h5M44 84h8M45 85h3M49 85h2M45 86h6M46 87h3" stroke="#8e8e8e" stroke-width="1" fill="none"/>
</g>
<g transform="translate(428.6,569)">
<rect x="0" y="0" width="88.7" height="88.5" fill="none" stroke="#555" stroke-width="1"/>
<path d="M30 0V88.5M0 52.4H88.7" stroke="#666" stroke-width="1"/>
<path d="M12 88.5v4M18.62 88.5v2.5M22.5 88.5v2.5M0.5 88.5v2.5M25.25 88.5v2.5M3.25 88.5v2.5M27.38 88.5v2.5M5.38 88.5v2.5M29.12 88.5v2.5M7.12 88.5v2.5M30.59 88.5v2.5M8.59 88.5v2.5M31.87 88.5v2.5M9.87 88.5v2.5M32.99 88.5v2.5M10.99 88.5v2.5M34 88.5v4M40.62 88.5v2.5M44.5 88.5v2.5M47.25 88.5v2.5M49.38 88.5v2.5M51.12 88.5v2.5M52.59 88.5v2.5M53.87 88.5v2.5M54.99 88.5v2.5M56 88.5v4M62.62 88.5v2.5M66.5 88.5v2.5M69.25 88.5v2.5M71.38 88.5v2.5M73.12 88.5v2.5M74.59 88.5v2.5M75.87 88.5v2.5M76.99 88.5v2.5M78 88.5v4M84.62 88.5v2.5M88.5 88.5v2.5M0 76h-4M0 69.38h-2.5M0 65.5h-2.5M0 87.5h-2.5M0 62.75h-2.5M0 84.75h-2.5M0 60.62h-2.5M0 82.62h-2.5M0 58.88h-2.5M0 80.88h-2.5M0 57.41h-2.5M0 79.41h-2.5M0 56.13h-2.5M0 78.13h-2.5M0 55.01h-2.5M0 77.01h-2.5M0 54h-4M0 47.38h-2.5M0 43.5h-2.5M0 40.75h-2.5M0 38.62h-2.5M0 36.88h-2.5M0 35.41h-2.5M0 34.13h-2.5M0 33.01h-2.5M0 32h-4M0 25.38h-2.5M0 21.5h-2.5M0 18.75h-2.5M0 16.62h-2.5M0 14.88h-2.5M0 13.41h-2.5M0 12.13h-2.5M0 11.01h-2.5M0 10h-4M0 3.38h-2.5" stroke="#555" stroke-width=".7"/>
<text x="8.5" y="99.5" font-size="6.2">10<tspan dy="-2.8" font-size="4.6">2</tspan></text>
<text x="30.5" y="99.5" font-size="6.2">10<tspan dy="-2.8" font-size="4.6">3</tspan></text>
<text x="52.5" y="99.5" font-size="6.2">10<tspan dy="-2.8" font-size="4.6">4</tspan></text>
<text x="74.5" y="99.5" font-size="6.2">10<tspan dy="-2.8" font-size="4.6">5</tspan></text>
<text transform="translate(-4.8,80) rotate(-90)" font-size="6.2">10<tspan dy="-2.8" font-size="4.6">2</tspan></text>
<text transform="translate(-4.8,58) rotate(-90)" font-size="6.2">10<tspan dy="-2.8" font-size="4.6">3</tspan></text>
<text transform="translate(-4.8,36) rotate(-90)" font-size="6.2">10<tspan dy="-2.8" font-size="4.6">4</tspan></text>
<text transform="translate(-4.8,14) rotate(-90)" font-size="6.2">10<tspan dy="-2.8" font-size="4.6">5</tspan></text>
</g>
<text x="435.4" y="585" font-size="9.3">5%</text>
<text x="490.2" y="585" font-size="9.3">53.5%</text>
<text x="435.8" y="643.7" font-size="9.3">11%</text>
<text x="490.2" y="643.7" font-size="9.3">30.5%</text>
</svg>
</body></html>
